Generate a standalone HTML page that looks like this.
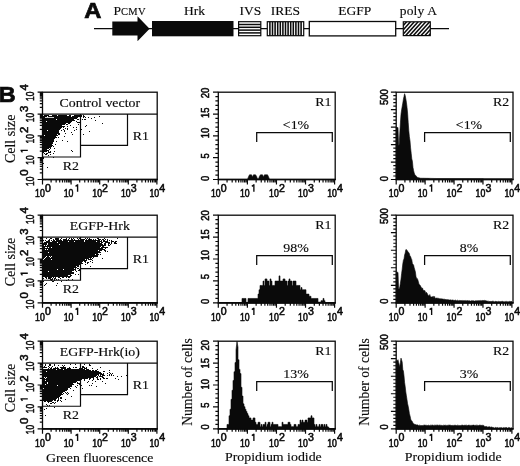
<!DOCTYPE html>
<html><head><meta charset="utf-8"><title>Figure</title>
<style>html,body{margin:0;padding:0;background:#fff;}body{width:520px;height:466px;overflow:hidden;font-family:"Liberation Serif",serif;}svg{display:block;filter:grayscale(1) blur(0.35px)}</style>
</head><body>
<svg width="520" height="466" viewBox="0 0 520 466">
<rect width="520" height="466" fill="#fff"/>
<text transform="translate(84.3,17.6) scale(1.13,1.03)" font-family="Liberation Sans, sans-serif" font-weight="bold" font-size="21" fill="#0a0a0a" stroke="#0a0a0a" stroke-width="0.7">A</text>
<line x1="94" y1="28.7" x2="449" y2="28.7" stroke="#0a0a0a" stroke-width="1.2"/>
<polygon points="112.3,21.6 137.5,21.6 137.5,16.3 149.6,28.7 137.5,41.2 137.5,35.6 112.3,35.6" fill="#0a0a0a"/>
<rect x="152" y="21" width="81.5" height="15.3" fill="#0a0a0a"/>
<rect x="238.6" y="21.7" width="22.2" height="14" fill="#fff" stroke="#0a0a0a" stroke-width="1.2"/>
<line x1="238.6" y1="24.50" x2="260.8" y2="24.50" stroke="#0a0a0a" stroke-width="1.5"/>
<line x1="238.6" y1="27.30" x2="260.8" y2="27.30" stroke="#0a0a0a" stroke-width="1.5"/>
<line x1="238.6" y1="30.10" x2="260.8" y2="30.10" stroke="#0a0a0a" stroke-width="1.5"/>
<line x1="238.6" y1="32.90" x2="260.8" y2="32.90" stroke="#0a0a0a" stroke-width="1.5"/>
<rect x="267.3" y="21.7" width="36.4" height="14" fill="#fff" stroke="#0a0a0a" stroke-width="1.2"/>
<line x1="269.90" y1="21.7" x2="269.90" y2="35.7" stroke="#0a0a0a" stroke-width="1.55"/>
<line x1="272.50" y1="21.7" x2="272.50" y2="35.7" stroke="#0a0a0a" stroke-width="1.55"/>
<line x1="275.10" y1="21.7" x2="275.10" y2="35.7" stroke="#0a0a0a" stroke-width="1.55"/>
<line x1="277.70" y1="21.7" x2="277.70" y2="35.7" stroke="#0a0a0a" stroke-width="1.55"/>
<line x1="280.30" y1="21.7" x2="280.30" y2="35.7" stroke="#0a0a0a" stroke-width="1.55"/>
<line x1="282.90" y1="21.7" x2="282.90" y2="35.7" stroke="#0a0a0a" stroke-width="1.55"/>
<line x1="285.50" y1="21.7" x2="285.50" y2="35.7" stroke="#0a0a0a" stroke-width="1.55"/>
<line x1="288.10" y1="21.7" x2="288.10" y2="35.7" stroke="#0a0a0a" stroke-width="1.55"/>
<line x1="290.70" y1="21.7" x2="290.70" y2="35.7" stroke="#0a0a0a" stroke-width="1.55"/>
<line x1="293.30" y1="21.7" x2="293.30" y2="35.7" stroke="#0a0a0a" stroke-width="1.55"/>
<line x1="295.90" y1="21.7" x2="295.90" y2="35.7" stroke="#0a0a0a" stroke-width="1.55"/>
<line x1="298.50" y1="21.7" x2="298.50" y2="35.7" stroke="#0a0a0a" stroke-width="1.55"/>
<line x1="301.10" y1="21.7" x2="301.10" y2="35.7" stroke="#0a0a0a" stroke-width="1.55"/>
<rect x="309.3" y="21.5" width="86.4" height="14.4" fill="#fff" stroke="#0a0a0a" stroke-width="1.3"/>
<clipPath id="pa"><rect x="403.3" y="21.8" width="27" height="13.8"/></clipPath>
<rect x="403.3" y="21.8" width="27" height="13.8" fill="#fff"/>
<g clip-path="url(#pa)"><line x1="386.40" y1="35.6" x2="398.90" y2="21.8" stroke="#0a0a0a" stroke-width="1.5"/><line x1="390.25" y1="35.6" x2="402.75" y2="21.8" stroke="#0a0a0a" stroke-width="1.5"/><line x1="394.10" y1="35.6" x2="406.60" y2="21.8" stroke="#0a0a0a" stroke-width="1.5"/><line x1="397.95" y1="35.6" x2="410.45" y2="21.8" stroke="#0a0a0a" stroke-width="1.5"/><line x1="401.80" y1="35.6" x2="414.30" y2="21.8" stroke="#0a0a0a" stroke-width="1.5"/><line x1="405.65" y1="35.6" x2="418.15" y2="21.8" stroke="#0a0a0a" stroke-width="1.5"/><line x1="409.50" y1="35.6" x2="422.00" y2="21.8" stroke="#0a0a0a" stroke-width="1.5"/><line x1="413.35" y1="35.6" x2="425.85" y2="21.8" stroke="#0a0a0a" stroke-width="1.5"/><line x1="417.20" y1="35.6" x2="429.70" y2="21.8" stroke="#0a0a0a" stroke-width="1.5"/><line x1="421.05" y1="35.6" x2="433.55" y2="21.8" stroke="#0a0a0a" stroke-width="1.5"/><line x1="424.90" y1="35.6" x2="437.40" y2="21.8" stroke="#0a0a0a" stroke-width="1.5"/><line x1="428.75" y1="35.6" x2="441.25" y2="21.8" stroke="#0a0a0a" stroke-width="1.5"/><line x1="432.60" y1="35.6" x2="445.10" y2="21.8" stroke="#0a0a0a" stroke-width="1.5"/><line x1="436.45" y1="35.6" x2="448.95" y2="21.8" stroke="#0a0a0a" stroke-width="1.5"/><line x1="440.30" y1="35.6" x2="452.80" y2="21.8" stroke="#0a0a0a" stroke-width="1.5"/></g>
<rect x="403.3" y="21.8" width="27" height="13.8" fill="none" stroke="#0a0a0a" stroke-width="1.2"/>
<text x="113.5" y="14.9" font-family="Liberation Serif, serif" stroke="#0a0a0a" stroke-width="0.14" font-size="13.5" fill="#0a0a0a">P<tspan font-size="10.5" letter-spacing="0.35">CMV</tspan></text>
<text x="194.5" y="14.9" font-family="Liberation Serif, serif" stroke="#0a0a0a" stroke-width="0.14" font-size="13.5" fill="#0a0a0a" text-anchor="middle">Hrk</text>
<text x="250.3" y="14.9" font-family="Liberation Serif, serif" stroke="#0a0a0a" stroke-width="0.14" font-size="13.5" fill="#0a0a0a" text-anchor="middle">IVS</text>
<text x="285.3" y="14.9" font-family="Liberation Serif, serif" stroke="#0a0a0a" stroke-width="0.14" font-size="13.5" fill="#0a0a0a" text-anchor="middle">IRES</text>
<text x="354.8" y="14.9" font-family="Liberation Serif, serif" stroke="#0a0a0a" stroke-width="0.14" font-size="13.5" fill="#0a0a0a" text-anchor="middle">EGFP</text>
<text x="418.5" y="14.9" font-family="Liberation Serif, serif" stroke="#0a0a0a" stroke-width="0.14" font-size="13.5" fill="#0a0a0a" text-anchor="middle" letter-spacing="0.2">poly A</text>
<text transform="translate(-1.2,101.9) scale(1.04,1)" font-family="Liberation Sans, sans-serif" font-weight="bold" font-size="22.5" fill="#0a0a0a" stroke="#0a0a0a" stroke-width="0.7">B</text>
<rect x="42.5" y="92.2" width="114.70" height="87.30" fill="none" stroke="#0a0a0a" stroke-width="1.3"/>
<line x1="41.9" y1="179.5" x2="157.79999999999998" y2="179.5" stroke="#0a0a0a" stroke-width="1.7"/>
<path d="M42.50 179.50v5.0M51.11 179.50v2.9M56.15 179.50v2.9M59.72 179.50v2.9M62.49 179.50v2.9M64.76 179.50v2.9M66.67 179.50v2.9M68.33 179.50v2.9M69.79 179.50v2.9M71.10 179.50v5.0M79.71 179.50v2.9M84.75 179.50v2.9M88.32 179.50v2.9M91.09 179.50v2.9M93.36 179.50v2.9M95.27 179.50v2.9M96.93 179.50v2.9M98.39 179.50v2.9M99.70 179.50v5.0M108.31 179.50v2.9M113.35 179.50v2.9M116.92 179.50v2.9M119.69 179.50v2.9M121.96 179.50v2.9M123.87 179.50v2.9M125.53 179.50v2.9M126.99 179.50v2.9M128.30 179.50v5.0M136.91 179.50v2.9M141.95 179.50v2.9M145.52 179.50v2.9M148.29 179.50v2.9M150.56 179.50v2.9M152.47 179.50v2.9M154.13 179.50v2.9M155.59 179.50v2.9M156.90 179.50v5.0" stroke="#0a0a0a" stroke-width="1.2" fill="none"/>
<text x="35.1" y="197.4" font-family="Liberation Sans, sans-serif" font-size="10" fill="#0a0a0a" stroke="#0a0a0a" stroke-width="0.55" textLength="9.7" lengthAdjust="spacingAndGlyphs">10</text>
<text x="44.9" y="191.8" font-family="Liberation Sans, sans-serif" font-size="10.4" fill="#0a0a0a" stroke="#0a0a0a" stroke-width="0.55" textLength="5.9" lengthAdjust="spacingAndGlyphs">0</text>
<text x="63.7" y="197.4" font-family="Liberation Sans, sans-serif" font-size="10" fill="#0a0a0a" stroke="#0a0a0a" stroke-width="0.55" textLength="9.7" lengthAdjust="spacingAndGlyphs">10</text>
<path transform="translate(73.50,191.80) scale(1.000)" d="M4.1 0V-7.45M4.1 -7.0L2.05 -5.45" stroke="#0a0a0a" stroke-width="1.35" fill="none" stroke-linejoin="miter"/>
<text x="92.3" y="197.4" font-family="Liberation Sans, sans-serif" font-size="10" fill="#0a0a0a" stroke="#0a0a0a" stroke-width="0.55" textLength="9.7" lengthAdjust="spacingAndGlyphs">10</text>
<text x="102.1" y="191.8" font-family="Liberation Sans, sans-serif" font-size="10.4" fill="#0a0a0a" stroke="#0a0a0a" stroke-width="0.55" textLength="5.9" lengthAdjust="spacingAndGlyphs">2</text>
<text x="120.9" y="197.4" font-family="Liberation Sans, sans-serif" font-size="10" fill="#0a0a0a" stroke="#0a0a0a" stroke-width="0.55" textLength="9.7" lengthAdjust="spacingAndGlyphs">10</text>
<text x="130.7" y="191.8" font-family="Liberation Sans, sans-serif" font-size="10.4" fill="#0a0a0a" stroke="#0a0a0a" stroke-width="0.55" textLength="5.9" lengthAdjust="spacingAndGlyphs">3</text>
<text x="149.5" y="197.4" font-family="Liberation Sans, sans-serif" font-size="10" fill="#0a0a0a" stroke="#0a0a0a" stroke-width="0.55" textLength="9.7" lengthAdjust="spacingAndGlyphs">10</text>
<text x="159.3" y="191.8" font-family="Liberation Sans, sans-serif" font-size="10.4" fill="#0a0a0a" stroke="#0a0a0a" stroke-width="0.55" textLength="5.9" lengthAdjust="spacingAndGlyphs">4</text>
<path d="M42.50 179.50h-4.9M42.50 172.93h-2.7M42.50 169.09h-2.7M42.50 166.36h-2.7M42.50 164.24h-2.7M42.50 162.52h-2.7M42.50 161.06h-2.7M42.50 159.79h-2.7M42.50 158.67h-2.7M42.50 157.68h-4.9M42.50 151.11h-2.7M42.50 147.26h-2.7M42.50 144.54h-2.7M42.50 142.42h-2.7M42.50 140.69h-2.7M42.50 139.23h-2.7M42.50 137.97h-2.7M42.50 136.85h-2.7M42.50 135.85h-4.9M42.50 129.28h-2.7M42.50 125.44h-2.7M42.50 122.71h-2.7M42.50 120.59h-2.7M42.50 118.87h-2.7M42.50 117.41h-2.7M42.50 116.14h-2.7M42.50 115.02h-2.7M42.50 114.03h-4.9M42.50 107.46h-2.7M42.50 103.61h-2.7M42.50 100.89h-2.7M42.50 98.77h-2.7M42.50 97.04h-2.7M42.50 95.58h-2.7M42.50 94.32h-2.7M42.50 93.20h-2.7M42.50 92.20h-4.9" stroke="#0a0a0a" stroke-width="1.2" fill="none"/>
<g transform="translate(34.0,177.8) rotate(-90)"><text x="-8.2" y="0" font-family="Liberation Sans, sans-serif" font-size="10.7" fill="#0a0a0a" stroke="#0a0a0a" stroke-width="0.55" textLength="9.4" lengthAdjust="spacingAndGlyphs">10</text><text x="2.1" y="-6.2" font-family="Liberation Sans, sans-serif" font-size="10.2" fill="#0a0a0a" stroke="#0a0a0a" stroke-width="0.55" textLength="6.3" lengthAdjust="spacingAndGlyphs">0</text></g>
<g transform="translate(34.0,156.5) rotate(-90)"><text x="-8.2" y="0" font-family="Liberation Sans, sans-serif" font-size="10.7" fill="#0a0a0a" stroke="#0a0a0a" stroke-width="0.55" textLength="9.4" lengthAdjust="spacingAndGlyphs">10</text><path transform="translate(2.10,-6.20) scale(0.981)" d="M4.1 0V-7.45M4.1 -7.0L2.05 -5.45" stroke="#0a0a0a" stroke-width="1.35" fill="none" stroke-linejoin="miter"/></g>
<g transform="translate(34.0,135.2) rotate(-90)"><text x="-8.2" y="0" font-family="Liberation Sans, sans-serif" font-size="10.7" fill="#0a0a0a" stroke="#0a0a0a" stroke-width="0.55" textLength="9.4" lengthAdjust="spacingAndGlyphs">10</text><text x="2.1" y="-6.2" font-family="Liberation Sans, sans-serif" font-size="10.2" fill="#0a0a0a" stroke="#0a0a0a" stroke-width="0.55" textLength="6.3" lengthAdjust="spacingAndGlyphs">2</text></g>
<g transform="translate(34.0,114.0) rotate(-90)"><text x="-8.2" y="0" font-family="Liberation Sans, sans-serif" font-size="10.7" fill="#0a0a0a" stroke="#0a0a0a" stroke-width="0.55" textLength="9.4" lengthAdjust="spacingAndGlyphs">10</text><text x="2.1" y="-6.2" font-family="Liberation Sans, sans-serif" font-size="10.2" fill="#0a0a0a" stroke="#0a0a0a" stroke-width="0.55" textLength="6.3" lengthAdjust="spacingAndGlyphs">3</text></g>
<g transform="translate(34.0,92.7) rotate(-90)"><text x="-8.2" y="0" font-family="Liberation Sans, sans-serif" font-size="10.7" fill="#0a0a0a" stroke="#0a0a0a" stroke-width="0.55" textLength="9.4" lengthAdjust="spacingAndGlyphs">10</text><text x="2.1" y="-6.2" font-family="Liberation Sans, sans-serif" font-size="10.2" fill="#0a0a0a" stroke="#0a0a0a" stroke-width="0.55" textLength="6.3" lengthAdjust="spacingAndGlyphs">4</text></g>
<line x1="42.5" y1="114.03" x2="157.2" y2="114.03" stroke="#0a0a0a" stroke-width="1.2"/>
<path d="M42.5 157.02H80.50V114.03" stroke="#0a0a0a" stroke-width="1.2" fill="none"/>
<path d="M80.50 145.45H127.50V114.03" stroke="#0a0a0a" stroke-width="1.2" fill="none"/>
<text transform="translate(99.8,106.8) scale(1.085,1)" font-family="Liberation Serif, serif" stroke="#0a0a0a" stroke-width="0.14" font-size="12.8" fill="#0a0a0a" text-anchor="middle">Control vector</text>
<text transform="translate(132.8,140.4) scale(1.085,1)" font-family="Liberation Serif, serif" stroke="#0a0a0a" stroke-width="0.14" font-size="12.8" fill="#0a0a0a" text-anchor="start">R1</text>
<text transform="translate(62.8,170.0) scale(1.085,1)" font-family="Liberation Serif, serif" stroke="#0a0a0a" stroke-width="0.14" font-size="12.8" fill="#0a0a0a" text-anchor="start">R2</text>
<text transform="translate(14.8,138.8) rotate(-90)" font-family="Liberation Serif, serif" stroke="#0a0a0a" stroke-width="0.14" font-size="14" fill="#0a0a0a" text-anchor="middle">Cell size</text>
<path d="M44 115.5h5M52 115.5h5M58 115.5h9M69 115.5h2M74 115.5h6M81 115.5h1M83 115.5h1M43 116.5h4M48 116.5h23M72 116.5h10M83 116.5h2M99 116.5h1M43 117.5h35M80 117.5h1M83 117.5h1M85 117.5h1M88 117.5h1M94 117.5h1M43 118.5h34M91 118.5h1M43 119.5h13M57 119.5h17M77 119.5h2M82 119.5h1M84 119.5h2M43 120.5h32M95 120.5h1M43 121.5h3M47 121.5h25M76 121.5h1M43 122.5h28M77 122.5h3M43 123.5h23M68 123.5h2M102 123.5h1M43 124.5h22M66 124.5h2M78 124.5h1M43 125.5h19M70 125.5h1M80 125.5h1M86 125.5h1M43 126.5h22M67 126.5h1M85 126.5h1M43 127.5h19M63 127.5h1M73 127.5h1M76 127.5h1M43 128.5h18M65 128.5h1M67 128.5h1M43 129.5h17M63 129.5h1M67 129.5h1M76 129.5h1M81 129.5h1M43 130.5h4M48 130.5h11M61 130.5h1M64 130.5h1M74 130.5h1M43 131.5h16M64 131.5h1M89 131.5h1M43 132.5h16M71 132.5h1M43 133.5h17M65 133.5h1M43 134.5h14M58 134.5h2M72 134.5h1M83 134.5h1M43 135.5h1M45 135.5h13M43 136.5h13M64 136.5h1M43 137.5h14M58 137.5h1M43 138.5h12M43 139.5h11M43 140.5h11M62 140.5h1M43 141.5h11M56 141.5h1M67 141.5h1M43 142.5h10M43 143.5h10M43 144.5h9M55 144.5h1M43 145.5h10M43 146.5h9M53 146.5h1M43 147.5h8M43 148.5h6M50 148.5h1M54 148.5h1M43 149.5h4M49 149.5h1M43 150.5h6M71 150.5h1M43 151.5h4M48 151.5h1M50 151.5h1M54 151.5h1M72 151.5h1M43 152.5h1M48 152.5h3M44 153.5h1M46 153.5h2M53 153.5h1M45 154.5h2M50 154.5h1M48 155.5h1M43 157.5h1M53 157.5h1M43 158.5h1M43 163.5h1M47 167.5h1" stroke="#0a0a0a" stroke-width="1" fill="none" shape-rendering="crispEdges"/>
<line x1="45.0" y1="117.5" x2="54.0" y2="117.5" stroke="#fff" stroke-width="0.8"/>
<rect x="42.5" y="215.2" width="114.70" height="87.60" fill="none" stroke="#0a0a0a" stroke-width="1.3"/>
<line x1="41.9" y1="302.8" x2="157.79999999999998" y2="302.8" stroke="#0a0a0a" stroke-width="1.7"/>
<path d="M42.50 302.80v5.0M51.11 302.80v2.9M56.15 302.80v2.9M59.72 302.80v2.9M62.49 302.80v2.9M64.76 302.80v2.9M66.67 302.80v2.9M68.33 302.80v2.9M69.79 302.80v2.9M71.10 302.80v5.0M79.71 302.80v2.9M84.75 302.80v2.9M88.32 302.80v2.9M91.09 302.80v2.9M93.36 302.80v2.9M95.27 302.80v2.9M96.93 302.80v2.9M98.39 302.80v2.9M99.70 302.80v5.0M108.31 302.80v2.9M113.35 302.80v2.9M116.92 302.80v2.9M119.69 302.80v2.9M121.96 302.80v2.9M123.87 302.80v2.9M125.53 302.80v2.9M126.99 302.80v2.9M128.30 302.80v5.0M136.91 302.80v2.9M141.95 302.80v2.9M145.52 302.80v2.9M148.29 302.80v2.9M150.56 302.80v2.9M152.47 302.80v2.9M154.13 302.80v2.9M155.59 302.80v2.9M156.90 302.80v5.0" stroke="#0a0a0a" stroke-width="1.2" fill="none"/>
<text x="35.1" y="320.7" font-family="Liberation Sans, sans-serif" font-size="10" fill="#0a0a0a" stroke="#0a0a0a" stroke-width="0.55" textLength="9.7" lengthAdjust="spacingAndGlyphs">10</text>
<text x="44.9" y="315.1" font-family="Liberation Sans, sans-serif" font-size="10.4" fill="#0a0a0a" stroke="#0a0a0a" stroke-width="0.55" textLength="5.9" lengthAdjust="spacingAndGlyphs">0</text>
<text x="63.7" y="320.7" font-family="Liberation Sans, sans-serif" font-size="10" fill="#0a0a0a" stroke="#0a0a0a" stroke-width="0.55" textLength="9.7" lengthAdjust="spacingAndGlyphs">10</text>
<path transform="translate(73.50,315.10) scale(1.000)" d="M4.1 0V-7.45M4.1 -7.0L2.05 -5.45" stroke="#0a0a0a" stroke-width="1.35" fill="none" stroke-linejoin="miter"/>
<text x="92.3" y="320.7" font-family="Liberation Sans, sans-serif" font-size="10" fill="#0a0a0a" stroke="#0a0a0a" stroke-width="0.55" textLength="9.7" lengthAdjust="spacingAndGlyphs">10</text>
<text x="102.1" y="315.1" font-family="Liberation Sans, sans-serif" font-size="10.4" fill="#0a0a0a" stroke="#0a0a0a" stroke-width="0.55" textLength="5.9" lengthAdjust="spacingAndGlyphs">2</text>
<text x="120.9" y="320.7" font-family="Liberation Sans, sans-serif" font-size="10" fill="#0a0a0a" stroke="#0a0a0a" stroke-width="0.55" textLength="9.7" lengthAdjust="spacingAndGlyphs">10</text>
<text x="130.7" y="315.1" font-family="Liberation Sans, sans-serif" font-size="10.4" fill="#0a0a0a" stroke="#0a0a0a" stroke-width="0.55" textLength="5.9" lengthAdjust="spacingAndGlyphs">3</text>
<text x="149.5" y="320.7" font-family="Liberation Sans, sans-serif" font-size="10" fill="#0a0a0a" stroke="#0a0a0a" stroke-width="0.55" textLength="9.7" lengthAdjust="spacingAndGlyphs">10</text>
<text x="159.3" y="315.1" font-family="Liberation Sans, sans-serif" font-size="10.4" fill="#0a0a0a" stroke="#0a0a0a" stroke-width="0.55" textLength="5.9" lengthAdjust="spacingAndGlyphs">4</text>
<path d="M42.50 302.80h-4.9M42.50 296.21h-2.7M42.50 292.35h-2.7M42.50 289.61h-2.7M42.50 287.49h-2.7M42.50 285.76h-2.7M42.50 284.29h-2.7M42.50 283.02h-2.7M42.50 281.90h-2.7M42.50 280.90h-4.9M42.50 274.31h-2.7M42.50 270.45h-2.7M42.50 267.71h-2.7M42.50 265.59h-2.7M42.50 263.86h-2.7M42.50 262.39h-2.7M42.50 261.12h-2.7M42.50 260.00h-2.7M42.50 259.00h-4.9M42.50 252.41h-2.7M42.50 248.55h-2.7M42.50 245.81h-2.7M42.50 243.69h-2.7M42.50 241.96h-2.7M42.50 240.49h-2.7M42.50 239.22h-2.7M42.50 238.10h-2.7M42.50 237.10h-4.9M42.50 230.51h-2.7M42.50 226.65h-2.7M42.50 223.91h-2.7M42.50 221.79h-2.7M42.50 220.06h-2.7M42.50 218.59h-2.7M42.50 217.32h-2.7M42.50 216.20h-2.7M42.50 215.20h-4.9" stroke="#0a0a0a" stroke-width="1.2" fill="none"/>
<g transform="translate(34.0,300.7) rotate(-90)"><text x="-8.2" y="0" font-family="Liberation Sans, sans-serif" font-size="10.7" fill="#0a0a0a" stroke="#0a0a0a" stroke-width="0.55" textLength="9.4" lengthAdjust="spacingAndGlyphs">10</text><text x="2.1" y="-6.2" font-family="Liberation Sans, sans-serif" font-size="10.2" fill="#0a0a0a" stroke="#0a0a0a" stroke-width="0.55" textLength="6.3" lengthAdjust="spacingAndGlyphs">0</text></g>
<g transform="translate(34.0,279.4) rotate(-90)"><text x="-8.2" y="0" font-family="Liberation Sans, sans-serif" font-size="10.7" fill="#0a0a0a" stroke="#0a0a0a" stroke-width="0.55" textLength="9.4" lengthAdjust="spacingAndGlyphs">10</text><path transform="translate(2.10,-6.20) scale(0.981)" d="M4.1 0V-7.45M4.1 -7.0L2.05 -5.45" stroke="#0a0a0a" stroke-width="1.35" fill="none" stroke-linejoin="miter"/></g>
<g transform="translate(34.0,258.2) rotate(-90)"><text x="-8.2" y="0" font-family="Liberation Sans, sans-serif" font-size="10.7" fill="#0a0a0a" stroke="#0a0a0a" stroke-width="0.55" textLength="9.4" lengthAdjust="spacingAndGlyphs">10</text><text x="2.1" y="-6.2" font-family="Liberation Sans, sans-serif" font-size="10.2" fill="#0a0a0a" stroke="#0a0a0a" stroke-width="0.55" textLength="6.3" lengthAdjust="spacingAndGlyphs">2</text></g>
<g transform="translate(34.0,236.9) rotate(-90)"><text x="-8.2" y="0" font-family="Liberation Sans, sans-serif" font-size="10.7" fill="#0a0a0a" stroke="#0a0a0a" stroke-width="0.55" textLength="9.4" lengthAdjust="spacingAndGlyphs">10</text><text x="2.1" y="-6.2" font-family="Liberation Sans, sans-serif" font-size="10.2" fill="#0a0a0a" stroke="#0a0a0a" stroke-width="0.55" textLength="6.3" lengthAdjust="spacingAndGlyphs">3</text></g>
<g transform="translate(34.0,215.7) rotate(-90)"><text x="-8.2" y="0" font-family="Liberation Sans, sans-serif" font-size="10.7" fill="#0a0a0a" stroke="#0a0a0a" stroke-width="0.55" textLength="9.4" lengthAdjust="spacingAndGlyphs">10</text><text x="2.1" y="-6.2" font-family="Liberation Sans, sans-serif" font-size="10.2" fill="#0a0a0a" stroke="#0a0a0a" stroke-width="0.55" textLength="6.3" lengthAdjust="spacingAndGlyphs">4</text></g>
<line x1="42.5" y1="237.10" x2="157.2" y2="237.10" stroke="#0a0a0a" stroke-width="1.2"/>
<path d="M42.5 280.24H80.50V237.10" stroke="#0a0a0a" stroke-width="1.2" fill="none"/>
<path d="M80.50 268.64H127.50V237.10" stroke="#0a0a0a" stroke-width="1.2" fill="none"/>
<text transform="translate(99.8,229.8) scale(1.085,1)" font-family="Liberation Serif, serif" stroke="#0a0a0a" stroke-width="0.14" font-size="12.8" fill="#0a0a0a" text-anchor="middle">EGFP-Hrk</text>
<text transform="translate(132.8,263.4) scale(1.085,1)" font-family="Liberation Serif, serif" stroke="#0a0a0a" stroke-width="0.14" font-size="12.8" fill="#0a0a0a" text-anchor="start">R1</text>
<text transform="translate(62.8,293.0) scale(1.085,1)" font-family="Liberation Serif, serif" stroke="#0a0a0a" stroke-width="0.14" font-size="12.8" fill="#0a0a0a" text-anchor="start">R2</text>
<text transform="translate(14.8,262.0) rotate(-90)" font-family="Liberation Serif, serif" stroke="#0a0a0a" stroke-width="0.14" font-size="14" fill="#0a0a0a" text-anchor="middle">Cell size</text>
<path d="M46 238.5h1M50 238.5h2M55 238.5h4M61 238.5h1M66 238.5h1M69 238.5h1M71 238.5h1M73 238.5h1M77 238.5h1M79 238.5h2M85 238.5h1M87 238.5h1M89 238.5h1M97 238.5h2M104 238.5h1M117 238.5h1M49 239.5h1M53 239.5h1M55 239.5h4M60 239.5h1M63 239.5h4M68 239.5h1M71 239.5h2M74 239.5h1M78 239.5h1M80 239.5h5M86 239.5h1M88 239.5h4M93 239.5h1M95 239.5h1M98 239.5h3M102 239.5h2M105 239.5h1M107 239.5h1M43 240.5h1M45 240.5h1M48 240.5h2M51 240.5h1M53 240.5h2M56 240.5h6M63 240.5h21M85 240.5h15M101 240.5h1M103 240.5h2M107 240.5h1M109 240.5h1M111 240.5h1M46 241.5h4M52 241.5h16M69 241.5h5M75 241.5h9M85 241.5h11M97 241.5h5M103 241.5h5M111 241.5h3M115 241.5h2M44 242.5h13M58 242.5h42M101 242.5h2M105 242.5h5M111 242.5h1M114 242.5h2M43 243.5h4M48 243.5h54M104 243.5h2M108 243.5h2M111 243.5h1M114 243.5h3M43 244.5h4M48 244.5h11M60 244.5h43M104 244.5h2M108 244.5h1M110 244.5h1M43 245.5h1M45 245.5h1M47 245.5h59M108 245.5h2M43 246.5h58M102 246.5h2M43 247.5h2M47 247.5h1M49 247.5h2M52 247.5h48M101 247.5h7M43 248.5h60M105 248.5h1M43 249.5h2M46 249.5h1M48 249.5h57M43 250.5h55M99 250.5h3M104 250.5h2M43 251.5h57M105 251.5h1M107 251.5h1M43 252.5h5M49 252.5h52M43 253.5h55M43 254.5h52M96 254.5h3M100 254.5h1M43 255.5h55M43 256.5h3M47 256.5h2M50 256.5h1M52 256.5h46M43 257.5h2M46 257.5h4M51 257.5h41M93 257.5h1M43 258.5h1M45 258.5h44M90 258.5h1M92 258.5h1M102 258.5h1M44 259.5h7M52 259.5h33M86 259.5h1M88 259.5h4M43 260.5h44M92 260.5h1M43 261.5h40M84 261.5h2M90 261.5h1M43 262.5h39M85 262.5h1M87 262.5h2M92 262.5h1M43 263.5h40M87 263.5h1M43 264.5h38M85 264.5h1M43 265.5h36M80 265.5h1M43 266.5h33M77 266.5h2M90 266.5h1M43 267.5h34M43 268.5h31M75 268.5h1M77 268.5h2M43 269.5h14M58 269.5h5M64 269.5h12M79 269.5h1M43 270.5h31M75 270.5h1M78 270.5h2M43 271.5h5M49 271.5h23M76 271.5h1M43 272.5h31M43 273.5h31M43 274.5h28M75 274.5h1M78 274.5h1M43 275.5h25M70 275.5h2M43 276.5h28M45 277.5h2M48 277.5h4M53 277.5h1M55 277.5h1M58 277.5h2M62 277.5h2M66 277.5h1M68 277.5h2M43 278.5h1M46 278.5h1M48 278.5h3M52 278.5h1M54 278.5h2M60 278.5h1M50 279.5h3M54 279.5h1M56 279.5h1M58 279.5h1M68 279.5h1M72 279.5h1M51 280.5h1M54 280.5h1M66 280.5h1M43 281.5h1M52 281.5h2M61 281.5h1M46 283.5h1M57 283.5h1M45 284.5h1M44 285.5h1M56 285.5h1" stroke="#0a0a0a" stroke-width="1" fill="none" shape-rendering="crispEdges"/>
<rect x="42.5" y="341.2" width="114.70" height="87.60" fill="none" stroke="#0a0a0a" stroke-width="1.3"/>
<line x1="41.9" y1="428.8" x2="157.79999999999998" y2="428.8" stroke="#0a0a0a" stroke-width="1.7"/>
<path d="M42.50 428.80v5.0M51.11 428.80v2.9M56.15 428.80v2.9M59.72 428.80v2.9M62.49 428.80v2.9M64.76 428.80v2.9M66.67 428.80v2.9M68.33 428.80v2.9M69.79 428.80v2.9M71.10 428.80v5.0M79.71 428.80v2.9M84.75 428.80v2.9M88.32 428.80v2.9M91.09 428.80v2.9M93.36 428.80v2.9M95.27 428.80v2.9M96.93 428.80v2.9M98.39 428.80v2.9M99.70 428.80v5.0M108.31 428.80v2.9M113.35 428.80v2.9M116.92 428.80v2.9M119.69 428.80v2.9M121.96 428.80v2.9M123.87 428.80v2.9M125.53 428.80v2.9M126.99 428.80v2.9M128.30 428.80v5.0M136.91 428.80v2.9M141.95 428.80v2.9M145.52 428.80v2.9M148.29 428.80v2.9M150.56 428.80v2.9M152.47 428.80v2.9M154.13 428.80v2.9M155.59 428.80v2.9M156.90 428.80v5.0" stroke="#0a0a0a" stroke-width="1.2" fill="none"/>
<text x="35.1" y="446.7" font-family="Liberation Sans, sans-serif" font-size="10" fill="#0a0a0a" stroke="#0a0a0a" stroke-width="0.55" textLength="9.7" lengthAdjust="spacingAndGlyphs">10</text>
<text x="44.9" y="441.1" font-family="Liberation Sans, sans-serif" font-size="10.4" fill="#0a0a0a" stroke="#0a0a0a" stroke-width="0.55" textLength="5.9" lengthAdjust="spacingAndGlyphs">0</text>
<text x="63.7" y="446.7" font-family="Liberation Sans, sans-serif" font-size="10" fill="#0a0a0a" stroke="#0a0a0a" stroke-width="0.55" textLength="9.7" lengthAdjust="spacingAndGlyphs">10</text>
<path transform="translate(73.50,441.10) scale(1.000)" d="M4.1 0V-7.45M4.1 -7.0L2.05 -5.45" stroke="#0a0a0a" stroke-width="1.35" fill="none" stroke-linejoin="miter"/>
<text x="92.3" y="446.7" font-family="Liberation Sans, sans-serif" font-size="10" fill="#0a0a0a" stroke="#0a0a0a" stroke-width="0.55" textLength="9.7" lengthAdjust="spacingAndGlyphs">10</text>
<text x="102.1" y="441.1" font-family="Liberation Sans, sans-serif" font-size="10.4" fill="#0a0a0a" stroke="#0a0a0a" stroke-width="0.55" textLength="5.9" lengthAdjust="spacingAndGlyphs">2</text>
<text x="120.9" y="446.7" font-family="Liberation Sans, sans-serif" font-size="10" fill="#0a0a0a" stroke="#0a0a0a" stroke-width="0.55" textLength="9.7" lengthAdjust="spacingAndGlyphs">10</text>
<text x="130.7" y="441.1" font-family="Liberation Sans, sans-serif" font-size="10.4" fill="#0a0a0a" stroke="#0a0a0a" stroke-width="0.55" textLength="5.9" lengthAdjust="spacingAndGlyphs">3</text>
<text x="149.5" y="446.7" font-family="Liberation Sans, sans-serif" font-size="10" fill="#0a0a0a" stroke="#0a0a0a" stroke-width="0.55" textLength="9.7" lengthAdjust="spacingAndGlyphs">10</text>
<text x="159.3" y="441.1" font-family="Liberation Sans, sans-serif" font-size="10.4" fill="#0a0a0a" stroke="#0a0a0a" stroke-width="0.55" textLength="5.9" lengthAdjust="spacingAndGlyphs">4</text>
<path d="M42.50 428.80h-4.9M42.50 422.21h-2.7M42.50 418.35h-2.7M42.50 415.61h-2.7M42.50 413.49h-2.7M42.50 411.76h-2.7M42.50 410.29h-2.7M42.50 409.02h-2.7M42.50 407.90h-2.7M42.50 406.90h-4.9M42.50 400.31h-2.7M42.50 396.45h-2.7M42.50 393.71h-2.7M42.50 391.59h-2.7M42.50 389.86h-2.7M42.50 388.39h-2.7M42.50 387.12h-2.7M42.50 386.00h-2.7M42.50 385.00h-4.9M42.50 378.41h-2.7M42.50 374.55h-2.7M42.50 371.81h-2.7M42.50 369.69h-2.7M42.50 367.96h-2.7M42.50 366.49h-2.7M42.50 365.22h-2.7M42.50 364.10h-2.7M42.50 363.10h-4.9M42.50 356.51h-2.7M42.50 352.65h-2.7M42.50 349.91h-2.7M42.50 347.79h-2.7M42.50 346.06h-2.7M42.50 344.59h-2.7M42.50 343.32h-2.7M42.50 342.20h-2.7M42.50 341.20h-4.9" stroke="#0a0a0a" stroke-width="1.2" fill="none"/>
<g transform="translate(34.0,426.1) rotate(-90)"><text x="-8.2" y="0" font-family="Liberation Sans, sans-serif" font-size="10.7" fill="#0a0a0a" stroke="#0a0a0a" stroke-width="0.55" textLength="9.4" lengthAdjust="spacingAndGlyphs">10</text><text x="2.1" y="-6.2" font-family="Liberation Sans, sans-serif" font-size="10.2" fill="#0a0a0a" stroke="#0a0a0a" stroke-width="0.55" textLength="6.3" lengthAdjust="spacingAndGlyphs">0</text></g>
<g transform="translate(34.0,405.0) rotate(-90)"><text x="-8.2" y="0" font-family="Liberation Sans, sans-serif" font-size="10.7" fill="#0a0a0a" stroke="#0a0a0a" stroke-width="0.55" textLength="9.4" lengthAdjust="spacingAndGlyphs">10</text><path transform="translate(2.10,-6.20) scale(0.981)" d="M4.1 0V-7.45M4.1 -7.0L2.05 -5.45" stroke="#0a0a0a" stroke-width="1.35" fill="none" stroke-linejoin="miter"/></g>
<g transform="translate(34.0,383.9) rotate(-90)"><text x="-8.2" y="0" font-family="Liberation Sans, sans-serif" font-size="10.7" fill="#0a0a0a" stroke="#0a0a0a" stroke-width="0.55" textLength="9.4" lengthAdjust="spacingAndGlyphs">10</text><text x="2.1" y="-6.2" font-family="Liberation Sans, sans-serif" font-size="10.2" fill="#0a0a0a" stroke="#0a0a0a" stroke-width="0.55" textLength="6.3" lengthAdjust="spacingAndGlyphs">2</text></g>
<g transform="translate(34.0,362.8) rotate(-90)"><text x="-8.2" y="0" font-family="Liberation Sans, sans-serif" font-size="10.7" fill="#0a0a0a" stroke="#0a0a0a" stroke-width="0.55" textLength="9.4" lengthAdjust="spacingAndGlyphs">10</text><text x="2.1" y="-6.2" font-family="Liberation Sans, sans-serif" font-size="10.2" fill="#0a0a0a" stroke="#0a0a0a" stroke-width="0.55" textLength="6.3" lengthAdjust="spacingAndGlyphs">3</text></g>
<g transform="translate(34.0,341.7) rotate(-90)"><text x="-8.2" y="0" font-family="Liberation Sans, sans-serif" font-size="10.7" fill="#0a0a0a" stroke="#0a0a0a" stroke-width="0.55" textLength="9.4" lengthAdjust="spacingAndGlyphs">10</text><text x="2.1" y="-6.2" font-family="Liberation Sans, sans-serif" font-size="10.2" fill="#0a0a0a" stroke="#0a0a0a" stroke-width="0.55" textLength="6.3" lengthAdjust="spacingAndGlyphs">4</text></g>
<line x1="42.5" y1="363.10" x2="157.2" y2="363.10" stroke="#0a0a0a" stroke-width="1.2"/>
<path d="M42.5 406.24H80.50V363.10" stroke="#0a0a0a" stroke-width="1.2" fill="none"/>
<path d="M80.50 394.64H127.50V363.10" stroke="#0a0a0a" stroke-width="1.2" fill="none"/>
<text transform="translate(99.8,355.8) scale(1.085,1)" font-family="Liberation Serif, serif" stroke="#0a0a0a" stroke-width="0.14" font-size="12.8" fill="#0a0a0a" text-anchor="middle">EGFP-Hrk(io)</text>
<text transform="translate(132.8,389.4) scale(1.085,1)" font-family="Liberation Serif, serif" stroke="#0a0a0a" stroke-width="0.14" font-size="12.8" fill="#0a0a0a" text-anchor="start">R1</text>
<text transform="translate(62.8,419.0) scale(1.085,1)" font-family="Liberation Serif, serif" stroke="#0a0a0a" stroke-width="0.14" font-size="12.8" fill="#0a0a0a" text-anchor="start">R2</text>
<text transform="translate(14.8,388.0) rotate(-90)" font-family="Liberation Serif, serif" stroke="#0a0a0a" stroke-width="0.14" font-size="14" fill="#0a0a0a" text-anchor="middle">Cell size</text>
<path d="M45 364.5h1M49 364.5h2M54 364.5h1M70 364.5h1M75 364.5h1M84 364.5h1M89 364.5h1M45 365.5h1M49 365.5h2M54 365.5h1M58 365.5h1M62 365.5h1M64 365.5h1M80 365.5h1M89 365.5h2M44 366.5h1M48 366.5h1M52 366.5h1M63 366.5h1M82 366.5h2M43 367.5h4M49 367.5h1M51 367.5h1M55 367.5h1M57 367.5h1M60 367.5h6M69 367.5h1M73 367.5h1M75 367.5h2M82 367.5h3M86 367.5h1M100 367.5h1M48 368.5h1M50 368.5h2M53 368.5h6M61 368.5h5M67 368.5h4M79 368.5h4M84 368.5h3M92 368.5h1M43 369.5h13M57 369.5h6M64 369.5h16M81 369.5h4M86 369.5h3M97 369.5h1M43 370.5h48M92 370.5h2M95 370.5h2M109 370.5h1M43 371.5h3M47 371.5h52M103 371.5h2M43 372.5h58M109 372.5h1M43 373.5h59M103 373.5h1M107 373.5h1M110 373.5h1M112 373.5h1M43 374.5h56M100 374.5h4M109 374.5h1M111 374.5h1M43 375.5h54M98 375.5h1M100 375.5h1M102 375.5h3M107 375.5h1M109 375.5h1M111 375.5h1M113 375.5h1M126 375.5h1M43 376.5h53M97 376.5h1M99 376.5h4M117 376.5h1M121 376.5h1M43 377.5h1M45 377.5h1M47 377.5h47M96 377.5h2M102 377.5h2M43 378.5h2M46 378.5h42M89 378.5h2M93 378.5h1M97 378.5h1M100 378.5h1M103 378.5h2M106 378.5h2M115 378.5h1M43 379.5h39M84 379.5h1M89 379.5h1M93 379.5h1M97 379.5h2M100 379.5h1M118 379.5h1M43 380.5h2M46 380.5h34M84 380.5h1M92 380.5h1M43 381.5h34M80 381.5h1M88 381.5h1M95 381.5h1M102 381.5h1M43 382.5h4M48 382.5h28M77 382.5h1M87 382.5h1M43 383.5h4M48 383.5h25M77 383.5h3M92 383.5h1M105 383.5h1M43 384.5h2M46 384.5h28M79 384.5h1M43 385.5h14M58 385.5h14M77 385.5h1M81 385.5h1M89 385.5h1M91 385.5h1M43 386.5h29M75 386.5h1M96 386.5h1M43 387.5h27M76 387.5h1M44 388.5h24M70 388.5h1M82 388.5h1M43 389.5h25M43 390.5h24M73 390.5h1M43 391.5h22M43 392.5h20M65 392.5h1M67 392.5h1M43 393.5h19M63 393.5h1M66 393.5h1M68 393.5h1M43 394.5h20M67 394.5h1M43 395.5h18M43 396.5h17M71 396.5h1M43 397.5h16M60 397.5h2M43 398.5h14M58 398.5h1M60 398.5h2M43 399.5h13M58 399.5h1M65 399.5h1M43 400.5h10M54 400.5h2M57 400.5h2M60 400.5h1M44 401.5h2M47 401.5h5M57 401.5h1M61 401.5h1M48 402.5h1M52 402.5h2M55 402.5h1M50 403.5h2M54 403.5h1M46 404.5h1M47 405.5h1M49 405.5h1M54 407.5h1M46 408.5h1M44 409.5h1M45 415.5h1" stroke="#0a0a0a" stroke-width="1" fill="none" shape-rendering="crispEdges"/>
<rect x="218.3" y="92.2" width="116.90" height="87.30" fill="none" stroke="#0a0a0a" stroke-width="1.3"/>
<line x1="217.70000000000002" y1="179.5" x2="335.8" y2="179.5" stroke="#0a0a0a" stroke-width="1.7"/>
<path d="M218.30 179.50v5.0M227.05 179.50v2.9M232.17 179.50v2.9M235.80 179.50v2.9M238.62 179.50v2.9M240.92 179.50v2.9M242.87 179.50v2.9M244.56 179.50v2.9M246.04 179.50v2.9M247.38 179.50v5.0M256.13 179.50v2.9M261.25 179.50v2.9M264.88 179.50v2.9M267.70 179.50v2.9M270.00 179.50v2.9M271.95 179.50v2.9M273.63 179.50v2.9M275.12 179.50v2.9M276.45 179.50v5.0M285.20 179.50v2.9M290.32 179.50v2.9M293.95 179.50v2.9M296.77 179.50v2.9M299.07 179.50v2.9M301.02 179.50v2.9M302.71 179.50v2.9M304.19 179.50v2.9M305.53 179.50v5.0M314.28 179.50v2.9M319.40 179.50v2.9M323.03 179.50v2.9M325.85 179.50v2.9M328.15 179.50v2.9M330.10 179.50v2.9M331.78 179.50v2.9M333.27 179.50v2.9M334.60 179.50v5.0" stroke="#0a0a0a" stroke-width="1.2" fill="none"/>
<text x="210.9" y="197.4" font-family="Liberation Sans, sans-serif" font-size="10" fill="#0a0a0a" stroke="#0a0a0a" stroke-width="0.55" textLength="9.7" lengthAdjust="spacingAndGlyphs">10</text>
<text x="220.7" y="191.8" font-family="Liberation Sans, sans-serif" font-size="10.4" fill="#0a0a0a" stroke="#0a0a0a" stroke-width="0.55" textLength="5.9" lengthAdjust="spacingAndGlyphs">0</text>
<text x="240.0" y="197.4" font-family="Liberation Sans, sans-serif" font-size="10" fill="#0a0a0a" stroke="#0a0a0a" stroke-width="0.55" textLength="9.7" lengthAdjust="spacingAndGlyphs">10</text>
<path transform="translate(249.78,191.80) scale(1.000)" d="M4.1 0V-7.45M4.1 -7.0L2.05 -5.45" stroke="#0a0a0a" stroke-width="1.35" fill="none" stroke-linejoin="miter"/>
<text x="269.1" y="197.4" font-family="Liberation Sans, sans-serif" font-size="10" fill="#0a0a0a" stroke="#0a0a0a" stroke-width="0.55" textLength="9.7" lengthAdjust="spacingAndGlyphs">10</text>
<text x="278.9" y="191.8" font-family="Liberation Sans, sans-serif" font-size="10.4" fill="#0a0a0a" stroke="#0a0a0a" stroke-width="0.55" textLength="5.9" lengthAdjust="spacingAndGlyphs">2</text>
<text x="298.1" y="197.4" font-family="Liberation Sans, sans-serif" font-size="10" fill="#0a0a0a" stroke="#0a0a0a" stroke-width="0.55" textLength="9.7" lengthAdjust="spacingAndGlyphs">10</text>
<text x="307.9" y="191.8" font-family="Liberation Sans, sans-serif" font-size="10.4" fill="#0a0a0a" stroke="#0a0a0a" stroke-width="0.55" textLength="5.9" lengthAdjust="spacingAndGlyphs">3</text>
<text x="327.2" y="197.4" font-family="Liberation Sans, sans-serif" font-size="10" fill="#0a0a0a" stroke="#0a0a0a" stroke-width="0.55" textLength="9.7" lengthAdjust="spacingAndGlyphs">10</text>
<text x="337.0" y="191.8" font-family="Liberation Sans, sans-serif" font-size="10.4" fill="#0a0a0a" stroke="#0a0a0a" stroke-width="0.55" textLength="5.9" lengthAdjust="spacingAndGlyphs">4</text>
<path d="M218.30 179.50h-5.3M218.30 175.13h-2.9M218.30 170.77h-2.9M218.30 166.41h-2.9M218.30 162.04h-2.9M218.30 157.68h-5.3M218.30 153.31h-2.9M218.30 148.94h-2.9M218.30 144.58h-2.9M218.30 140.22h-2.9M218.30 135.85h-5.3M218.30 131.49h-2.9M218.30 127.12h-2.9M218.30 122.76h-2.9M218.30 118.39h-2.9M218.30 114.03h-5.3M218.30 109.66h-2.9M218.30 105.30h-2.9M218.30 100.93h-2.9M218.30 96.56h-2.9M218.30 92.20h-5.3" stroke="#0a0a0a" stroke-width="1.2" fill="none"/>
<g transform="translate(209.1,181.1) rotate(-90)"><text x="0" y="0" font-family="Liberation Sans, sans-serif" font-size="10.2" fill="#0a0a0a" stroke="#0a0a0a" stroke-width="0.55" textLength="5.2" lengthAdjust="spacingAndGlyphs">0</text></g>
<g transform="translate(209.1,158.4) rotate(-90)"><text x="0" y="0" font-family="Liberation Sans, sans-serif" font-size="10.2" fill="#0a0a0a" stroke="#0a0a0a" stroke-width="0.55" textLength="5.2" lengthAdjust="spacingAndGlyphs">5</text></g>
<g transform="translate(209.1,138.2) rotate(-90)"><text x="0" y="0" font-family="Liberation Sans, sans-serif" font-size="10.2" fill="#0a0a0a" stroke="#0a0a0a" stroke-width="0.55" textLength="10.5" lengthAdjust="spacingAndGlyphs">10</text></g>
<g transform="translate(209.1,118.0) rotate(-90)"><text x="0" y="0" font-family="Liberation Sans, sans-serif" font-size="10.2" fill="#0a0a0a" stroke="#0a0a0a" stroke-width="0.55" textLength="10.5" lengthAdjust="spacingAndGlyphs">15</text></g>
<g transform="translate(209.1,98.2) rotate(-90)"><text x="0" y="0" font-family="Liberation Sans, sans-serif" font-size="10.2" fill="#0a0a0a" stroke="#0a0a0a" stroke-width="0.55" textLength="10.5" lengthAdjust="spacingAndGlyphs">20</text></g>
<path d="M247.50 179.50L247.50 179.50L248.50 176.69L249.50 174.81L250.50 174.81L251.50 174.81L252.50 176.92L253.50 174.81L254.50 174.81L255.50 174.81L256.50 176.22L257.50 178.94L258.50 178.94L259.50 176.22L260.50 174.81L261.50 174.81L262.50 174.81L263.50 176.92L264.50 174.81L265.50 174.81L266.50 174.81L267.50 174.81L268.50 176.69L269.50 179.50L269.50 179.50Z" fill="#0a0a0a" stroke="#0a0a0a" stroke-width="0.6"/>
<path d="M256.7 142.0V132.6H332.3V142.0" stroke="#0a0a0a" stroke-width="1.25" fill="none"/>
<text transform="translate(296.0,128.8) scale(1.085,1)" font-family="Liberation Serif, serif" stroke="#0a0a0a" stroke-width="0.14" font-size="12.8" fill="#0a0a0a" text-anchor="middle">&lt;1%</text>
<text transform="translate(331.4,105.7) scale(1.085,1)" font-family="Liberation Serif, serif" stroke="#0a0a0a" stroke-width="0.14" font-size="12.8" fill="#0a0a0a" text-anchor="end">R1</text>
<rect x="396.2" y="92.2" width="116.80" height="87.30" fill="none" stroke="#0a0a0a" stroke-width="1.3"/>
<line x1="395.59999999999997" y1="179.5" x2="513.6" y2="179.5" stroke="#0a0a0a" stroke-width="1.7"/>
<path d="M396.20 179.50v5.0M404.91 179.50v2.9M410.00 179.50v2.9M413.61 179.50v2.9M416.42 179.50v2.9M418.71 179.50v2.9M420.64 179.50v2.9M422.32 179.50v2.9M423.80 179.50v2.9M425.12 179.50v5.0M433.83 179.50v2.9M438.93 179.50v2.9M442.54 179.50v2.9M445.34 179.50v2.9M447.63 179.50v2.9M449.57 179.50v2.9M451.25 179.50v2.9M452.73 179.50v2.9M454.05 179.50v5.0M462.76 179.50v2.9M467.85 179.50v2.9M471.46 179.50v2.9M474.27 179.50v2.9M476.56 179.50v2.9M478.49 179.50v2.9M480.17 179.50v2.9M481.65 179.50v2.9M482.97 179.50v5.0M491.68 179.50v2.9M496.78 179.50v2.9M500.39 179.50v2.9M503.19 179.50v2.9M505.48 179.50v2.9M507.42 179.50v2.9M509.10 179.50v2.9M510.58 179.50v2.9M511.90 179.50v5.0" stroke="#0a0a0a" stroke-width="1.2" fill="none"/>
<text x="388.8" y="197.4" font-family="Liberation Sans, sans-serif" font-size="10" fill="#0a0a0a" stroke="#0a0a0a" stroke-width="0.55" textLength="9.7" lengthAdjust="spacingAndGlyphs">10</text>
<text x="398.6" y="191.8" font-family="Liberation Sans, sans-serif" font-size="10.4" fill="#0a0a0a" stroke="#0a0a0a" stroke-width="0.55" textLength="5.9" lengthAdjust="spacingAndGlyphs">0</text>
<text x="417.7" y="197.4" font-family="Liberation Sans, sans-serif" font-size="10" fill="#0a0a0a" stroke="#0a0a0a" stroke-width="0.55" textLength="9.7" lengthAdjust="spacingAndGlyphs">10</text>
<path transform="translate(427.53,191.80) scale(1.000)" d="M4.1 0V-7.45M4.1 -7.0L2.05 -5.45" stroke="#0a0a0a" stroke-width="1.35" fill="none" stroke-linejoin="miter"/>
<text x="446.6" y="197.4" font-family="Liberation Sans, sans-serif" font-size="10" fill="#0a0a0a" stroke="#0a0a0a" stroke-width="0.55" textLength="9.7" lengthAdjust="spacingAndGlyphs">10</text>
<text x="456.4" y="191.8" font-family="Liberation Sans, sans-serif" font-size="10.4" fill="#0a0a0a" stroke="#0a0a0a" stroke-width="0.55" textLength="5.9" lengthAdjust="spacingAndGlyphs">2</text>
<text x="475.6" y="197.4" font-family="Liberation Sans, sans-serif" font-size="10" fill="#0a0a0a" stroke="#0a0a0a" stroke-width="0.55" textLength="9.7" lengthAdjust="spacingAndGlyphs">10</text>
<text x="485.4" y="191.8" font-family="Liberation Sans, sans-serif" font-size="10.4" fill="#0a0a0a" stroke="#0a0a0a" stroke-width="0.55" textLength="5.9" lengthAdjust="spacingAndGlyphs">3</text>
<text x="504.5" y="197.4" font-family="Liberation Sans, sans-serif" font-size="10" fill="#0a0a0a" stroke="#0a0a0a" stroke-width="0.55" textLength="9.7" lengthAdjust="spacingAndGlyphs">10</text>
<text x="514.3" y="191.8" font-family="Liberation Sans, sans-serif" font-size="10.4" fill="#0a0a0a" stroke="#0a0a0a" stroke-width="0.55" textLength="5.9" lengthAdjust="spacingAndGlyphs">4</text>
<path d="M396.20 179.50h-5.3M396.20 176.01h-2.9M396.20 172.52h-2.9M396.20 169.02h-2.9M396.20 165.53h-2.9M396.20 162.04h-5.3M396.20 158.55h-2.9M396.20 155.06h-2.9M396.20 151.56h-2.9M396.20 148.07h-2.9M396.20 144.58h-5.3M396.20 141.09h-2.9M396.20 137.60h-2.9M396.20 134.10h-2.9M396.20 130.61h-2.9M396.20 127.12h-5.3M396.20 123.63h-2.9M396.20 120.14h-2.9M396.20 116.64h-2.9M396.20 113.15h-2.9M396.20 109.66h-5.3M396.20 106.17h-2.9M396.20 102.68h-2.9M396.20 99.18h-2.9M396.20 95.69h-2.9M396.20 92.20h-5.3" stroke="#0a0a0a" stroke-width="1.2" fill="none"/>
<g transform="translate(387.7,181.3) rotate(-90)"><text x="0" y="0" font-family="Liberation Sans, sans-serif" font-size="10.2" fill="#0a0a0a" stroke="#0a0a0a" stroke-width="0.55" textLength="5.2" lengthAdjust="spacingAndGlyphs">0</text></g>
<g transform="translate(387.7,105.0) rotate(-90)"><text x="0" y="0" font-family="Liberation Sans, sans-serif" font-size="10.2" fill="#0a0a0a" stroke="#0a0a0a" stroke-width="0.55" textLength="15.8" lengthAdjust="spacingAndGlyphs">500</text></g>
<path d="M396.20 179.50L396.20 127.50L396.80 127.50L397.40 127.50L398.00 127.50L398.60 145.42L399.20 144.50L399.80 133.00L400.40 122.98L401.00 114.21L401.60 109.96L402.20 106.39L402.80 103.12L403.40 99.24L404.00 96.45L404.60 93.70L405.20 95.53L405.80 98.77L406.40 102.23L407.00 107.14L407.60 113.09L408.20 122.31L408.80 130.69L409.40 136.75L410.00 140.84L410.60 147.92L411.20 153.35L411.80 158.88L412.40 161.14L413.00 167.51L413.60 170.55L414.20 173.02L414.80 174.53L415.40 175.16L416.00 175.87L416.60 176.59L417.20 177.30L417.80 177.47L418.40 177.64L419.00 177.81L419.60 177.97L420.20 178.14L420.80 178.21L421.40 178.22L422.00 178.23L422.60 178.24L423.20 178.25L423.80 178.26L424.40 178.28L425.00 178.29L425.60 178.30L426.20 178.31L426.80 178.32L427.40 178.33L428.00 178.34L428.60 178.36L429.20 178.37L429.80 178.38L430.40 178.39L431.00 178.40L431.60 178.41L432.20 178.42L432.80 178.44L433.40 178.45L434.00 178.46L434.60 178.47L435.20 178.48L435.80 178.49L436.40 178.50L437.00 178.50L437.60 178.50L438.20 178.51L438.80 178.51L439.40 178.51L440.00 178.51L440.60 178.51L441.20 178.51L441.80 178.51L442.40 178.52L443.00 178.52L443.60 178.52L444.20 178.52L444.80 178.52L445.40 178.52L446.00 178.53L446.60 178.53L447.20 178.53L447.80 178.53L448.40 178.53L449.00 178.53L449.60 178.54L450.20 178.54L450.80 178.54L451.40 178.54L452.00 178.54L452.60 178.54L453.20 178.54L453.80 178.55L454.40 178.55L455.00 178.55L455.60 178.55L456.20 178.55L456.80 178.55L457.40 178.56L458.00 178.56L458.60 178.56L459.20 178.56L459.80 178.56L460.40 178.56L461.00 178.57L461.60 178.57L462.20 178.57L462.80 178.57L463.40 178.57L464.00 178.57L464.60 178.57L465.20 178.58L465.80 178.58L466.40 178.58L467.00 178.58L467.60 178.58L468.20 178.58L468.80 178.59L469.40 178.59L470.00 178.59L470.60 178.59L471.20 178.59L471.80 178.59L472.40 178.60L473.00 178.60L473.60 178.60L474.20 178.60L474.80 178.60L475.40 178.60L476.00 178.60L476.60 178.61L477.20 178.61L477.80 178.61L478.40 178.61L479.00 178.61L479.60 178.61L480.20 178.62L480.80 178.62L481.40 178.62L482.00 178.62L482.60 178.62L483.20 178.62L483.80 178.63L484.40 178.63L485.00 178.63L485.60 178.63L486.20 178.63L486.80 178.63L487.40 178.63L488.00 178.64L488.60 178.64L489.20 178.64L489.80 178.64L490.40 178.64L491.00 178.64L491.60 178.65L492.20 178.65L492.80 178.65L493.40 178.65L494.00 178.65L494.60 178.65L495.20 178.66L495.80 178.66L496.40 178.66L497.00 178.66L497.60 178.66L498.20 178.66L498.80 178.66L499.40 178.67L500.00 178.67L500.60 178.67L501.20 178.67L501.80 178.67L502.40 178.67L503.00 178.68L503.60 178.68L504.20 178.68L504.80 178.68L505.40 178.68L506.00 178.68L506.60 178.69L507.20 178.69L507.80 178.69L508.40 178.69L509.00 178.69L509.60 178.69L510.20 178.69L510.80 178.70L511.40 178.70L512.00 178.70L512.00 179.50Z" fill="#0a0a0a" stroke="#0a0a0a" stroke-width="0.6"/>
<path d="M424.6 142.0V132.6H510.3V142.0" stroke="#0a0a0a" stroke-width="1.25" fill="none"/>
<text transform="translate(469.0,128.8) scale(1.085,1)" font-family="Liberation Serif, serif" stroke="#0a0a0a" stroke-width="0.14" font-size="12.8" fill="#0a0a0a" text-anchor="middle">&lt;1%</text>
<text transform="translate(509.2,105.7) scale(1.085,1)" font-family="Liberation Serif, serif" stroke="#0a0a0a" stroke-width="0.14" font-size="12.8" fill="#0a0a0a" text-anchor="end">R2</text>
<rect x="218.3" y="215.2" width="116.90" height="87.60" fill="none" stroke="#0a0a0a" stroke-width="1.3"/>
<line x1="217.70000000000002" y1="302.8" x2="335.8" y2="302.8" stroke="#0a0a0a" stroke-width="1.7"/>
<path d="M218.30 302.80v5.0M227.05 302.80v2.9M232.17 302.80v2.9M235.80 302.80v2.9M238.62 302.80v2.9M240.92 302.80v2.9M242.87 302.80v2.9M244.56 302.80v2.9M246.04 302.80v2.9M247.38 302.80v5.0M256.13 302.80v2.9M261.25 302.80v2.9M264.88 302.80v2.9M267.70 302.80v2.9M270.00 302.80v2.9M271.95 302.80v2.9M273.63 302.80v2.9M275.12 302.80v2.9M276.45 302.80v5.0M285.20 302.80v2.9M290.32 302.80v2.9M293.95 302.80v2.9M296.77 302.80v2.9M299.07 302.80v2.9M301.02 302.80v2.9M302.71 302.80v2.9M304.19 302.80v2.9M305.53 302.80v5.0M314.28 302.80v2.9M319.40 302.80v2.9M323.03 302.80v2.9M325.85 302.80v2.9M328.15 302.80v2.9M330.10 302.80v2.9M331.78 302.80v2.9M333.27 302.80v2.9M334.60 302.80v5.0" stroke="#0a0a0a" stroke-width="1.2" fill="none"/>
<text x="210.9" y="320.7" font-family="Liberation Sans, sans-serif" font-size="10" fill="#0a0a0a" stroke="#0a0a0a" stroke-width="0.55" textLength="9.7" lengthAdjust="spacingAndGlyphs">10</text>
<text x="220.7" y="315.1" font-family="Liberation Sans, sans-serif" font-size="10.4" fill="#0a0a0a" stroke="#0a0a0a" stroke-width="0.55" textLength="5.9" lengthAdjust="spacingAndGlyphs">0</text>
<text x="240.0" y="320.7" font-family="Liberation Sans, sans-serif" font-size="10" fill="#0a0a0a" stroke="#0a0a0a" stroke-width="0.55" textLength="9.7" lengthAdjust="spacingAndGlyphs">10</text>
<path transform="translate(249.78,315.10) scale(1.000)" d="M4.1 0V-7.45M4.1 -7.0L2.05 -5.45" stroke="#0a0a0a" stroke-width="1.35" fill="none" stroke-linejoin="miter"/>
<text x="269.1" y="320.7" font-family="Liberation Sans, sans-serif" font-size="10" fill="#0a0a0a" stroke="#0a0a0a" stroke-width="0.55" textLength="9.7" lengthAdjust="spacingAndGlyphs">10</text>
<text x="278.9" y="315.1" font-family="Liberation Sans, sans-serif" font-size="10.4" fill="#0a0a0a" stroke="#0a0a0a" stroke-width="0.55" textLength="5.9" lengthAdjust="spacingAndGlyphs">2</text>
<text x="298.1" y="320.7" font-family="Liberation Sans, sans-serif" font-size="10" fill="#0a0a0a" stroke="#0a0a0a" stroke-width="0.55" textLength="9.7" lengthAdjust="spacingAndGlyphs">10</text>
<text x="307.9" y="315.1" font-family="Liberation Sans, sans-serif" font-size="10.4" fill="#0a0a0a" stroke="#0a0a0a" stroke-width="0.55" textLength="5.9" lengthAdjust="spacingAndGlyphs">3</text>
<text x="327.2" y="320.7" font-family="Liberation Sans, sans-serif" font-size="10" fill="#0a0a0a" stroke="#0a0a0a" stroke-width="0.55" textLength="9.7" lengthAdjust="spacingAndGlyphs">10</text>
<text x="337.0" y="315.1" font-family="Liberation Sans, sans-serif" font-size="10.4" fill="#0a0a0a" stroke="#0a0a0a" stroke-width="0.55" textLength="5.9" lengthAdjust="spacingAndGlyphs">4</text>
<path d="M218.30 302.80h-5.3M218.30 298.42h-2.9M218.30 294.04h-2.9M218.30 289.66h-2.9M218.30 285.28h-2.9M218.30 280.90h-5.3M218.30 276.52h-2.9M218.30 272.14h-2.9M218.30 267.76h-2.9M218.30 263.38h-2.9M218.30 259.00h-5.3M218.30 254.62h-2.9M218.30 250.24h-2.9M218.30 245.86h-2.9M218.30 241.48h-2.9M218.30 237.10h-5.3M218.30 232.72h-2.9M218.30 228.34h-2.9M218.30 223.96h-2.9M218.30 219.58h-2.9M218.30 215.20h-5.3" stroke="#0a0a0a" stroke-width="1.2" fill="none"/>
<g transform="translate(209.1,304.1) rotate(-90)"><text x="0" y="0" font-family="Liberation Sans, sans-serif" font-size="10.2" fill="#0a0a0a" stroke="#0a0a0a" stroke-width="0.55" textLength="5.2" lengthAdjust="spacingAndGlyphs">0</text></g>
<g transform="translate(209.1,279.3) rotate(-90)"><text x="0" y="0" font-family="Liberation Sans, sans-serif" font-size="10.2" fill="#0a0a0a" stroke="#0a0a0a" stroke-width="0.55" textLength="5.2" lengthAdjust="spacingAndGlyphs">5</text></g>
<g transform="translate(209.1,260.6) rotate(-90)"><text x="0" y="0" font-family="Liberation Sans, sans-serif" font-size="10.2" fill="#0a0a0a" stroke="#0a0a0a" stroke-width="0.55" textLength="10.5" lengthAdjust="spacingAndGlyphs">10</text></g>
<g transform="translate(209.1,239.8) rotate(-90)"><text x="0" y="0" font-family="Liberation Sans, sans-serif" font-size="10.2" fill="#0a0a0a" stroke="#0a0a0a" stroke-width="0.55" textLength="10.5" lengthAdjust="spacingAndGlyphs">15</text></g>
<g transform="translate(209.1,220.8) rotate(-90)"><text x="0" y="0" font-family="Liberation Sans, sans-serif" font-size="10.2" fill="#0a0a0a" stroke="#0a0a0a" stroke-width="0.55" textLength="10.5" lengthAdjust="spacingAndGlyphs">20</text></g>
<path d="M241.00 302.80L241.00 302.80L242.00 302.80L242.00 298.46L243.00 298.46L243.00 298.46L244.00 298.46L244.00 298.46L245.00 298.46L245.00 298.46L246.00 298.46L246.00 302.37L247.00 302.37L247.00 302.37L248.00 302.37L248.00 298.46L249.00 298.46L249.00 298.46L250.00 298.46L250.00 298.46L251.00 298.46L251.00 298.46L252.00 298.46L252.00 298.46L253.00 298.46L253.00 298.46L254.00 298.46L254.00 298.46L255.00 298.46L255.00 298.46L256.00 298.46L256.00 298.46L257.00 298.46L257.00 298.46L258.00 298.46L258.00 294.12L259.00 294.12L259.00 289.78L260.00 289.78L260.00 285.44L261.00 285.44L261.00 285.44L262.00 285.44L262.00 285.44L263.00 285.44L263.00 281.10L264.00 281.10L264.00 285.44L265.00 285.44L265.00 278.93L266.00 278.93L266.00 278.93L267.00 278.93L267.00 281.10L268.00 281.10L268.00 281.10L269.00 281.10L269.00 285.44L270.00 285.44L270.00 278.93L271.00 278.93L271.00 281.10L272.00 281.10L272.00 285.44L273.00 285.44L273.00 285.44L274.00 285.44L274.00 285.44L275.00 285.44L275.00 281.10L276.00 281.10L276.00 281.10L277.00 281.10L277.00 281.10L278.00 281.10L278.00 281.10L279.00 281.10L279.00 275.89L280.00 275.89L280.00 281.10L281.00 281.10L281.00 281.10L282.00 281.10L282.00 281.10L283.00 281.10L283.00 278.93L284.00 278.93L284.00 278.93L285.00 278.93L285.00 281.10L286.00 281.10L286.00 281.10L287.00 281.10L287.00 285.44L288.00 285.44L288.00 281.10L289.00 281.10L289.00 278.93L290.00 278.93L290.00 281.10L291.00 281.10L291.00 281.10L292.00 281.10L292.00 285.44L293.00 285.44L293.00 281.10L294.00 281.10L294.00 281.10L295.00 281.10L295.00 281.10L296.00 281.10L296.00 285.44L297.00 285.44L297.00 285.44L298.00 285.44L298.00 285.44L299.00 285.44L299.00 285.44L300.00 285.44L300.00 289.78L301.00 289.78L301.00 287.61L302.00 287.61L302.00 289.78L303.00 289.78L303.00 289.78L304.00 289.78L304.00 289.78L305.00 289.78L305.00 289.78L306.00 289.78L306.00 294.12L307.00 294.12L307.00 294.12L308.00 294.12L308.00 294.12L309.00 294.12L309.00 296.29L310.00 296.29L310.00 296.29L311.00 296.29L311.00 298.46L312.00 298.46L312.00 298.46L313.00 298.46L313.00 298.46L314.00 298.46L314.00 298.46L315.00 298.46L315.00 298.46L316.00 298.46L316.00 298.46L317.00 298.46L317.00 298.46L318.00 298.46L318.00 302.15L319.00 302.15L319.00 302.15L320.00 302.15L320.00 302.15L321.00 302.15L321.00 300.63L322.00 300.63L322.00 300.63L323.00 300.63L323.00 298.46L324.00 298.46L324.00 300.63L325.00 300.63L325.00 302.80L326.00 302.80L326.00 302.80L327.00 302.80L327.00 302.80Z" fill="#0a0a0a" stroke="#0a0a0a" stroke-width="0.6"/>
<path d="M256.7 265.0V255.6H332.3V265.0" stroke="#0a0a0a" stroke-width="1.25" fill="none"/>
<text transform="translate(296.0,251.8) scale(1.085,1)" font-family="Liberation Serif, serif" stroke="#0a0a0a" stroke-width="0.14" font-size="12.8" fill="#0a0a0a" text-anchor="middle">98%</text>
<text transform="translate(331.4,228.7) scale(1.085,1)" font-family="Liberation Serif, serif" stroke="#0a0a0a" stroke-width="0.14" font-size="12.8" fill="#0a0a0a" text-anchor="end">R1</text>
<rect x="396.2" y="215.2" width="116.80" height="87.60" fill="none" stroke="#0a0a0a" stroke-width="1.3"/>
<line x1="395.59999999999997" y1="302.8" x2="513.6" y2="302.8" stroke="#0a0a0a" stroke-width="1.7"/>
<path d="M396.20 302.80v5.0M404.91 302.80v2.9M410.00 302.80v2.9M413.61 302.80v2.9M416.42 302.80v2.9M418.71 302.80v2.9M420.64 302.80v2.9M422.32 302.80v2.9M423.80 302.80v2.9M425.12 302.80v5.0M433.83 302.80v2.9M438.93 302.80v2.9M442.54 302.80v2.9M445.34 302.80v2.9M447.63 302.80v2.9M449.57 302.80v2.9M451.25 302.80v2.9M452.73 302.80v2.9M454.05 302.80v5.0M462.76 302.80v2.9M467.85 302.80v2.9M471.46 302.80v2.9M474.27 302.80v2.9M476.56 302.80v2.9M478.49 302.80v2.9M480.17 302.80v2.9M481.65 302.80v2.9M482.97 302.80v5.0M491.68 302.80v2.9M496.78 302.80v2.9M500.39 302.80v2.9M503.19 302.80v2.9M505.48 302.80v2.9M507.42 302.80v2.9M509.10 302.80v2.9M510.58 302.80v2.9M511.90 302.80v5.0" stroke="#0a0a0a" stroke-width="1.2" fill="none"/>
<text x="388.8" y="320.7" font-family="Liberation Sans, sans-serif" font-size="10" fill="#0a0a0a" stroke="#0a0a0a" stroke-width="0.55" textLength="9.7" lengthAdjust="spacingAndGlyphs">10</text>
<text x="398.6" y="315.1" font-family="Liberation Sans, sans-serif" font-size="10.4" fill="#0a0a0a" stroke="#0a0a0a" stroke-width="0.55" textLength="5.9" lengthAdjust="spacingAndGlyphs">0</text>
<text x="417.7" y="320.7" font-family="Liberation Sans, sans-serif" font-size="10" fill="#0a0a0a" stroke="#0a0a0a" stroke-width="0.55" textLength="9.7" lengthAdjust="spacingAndGlyphs">10</text>
<path transform="translate(427.53,315.10) scale(1.000)" d="M4.1 0V-7.45M4.1 -7.0L2.05 -5.45" stroke="#0a0a0a" stroke-width="1.35" fill="none" stroke-linejoin="miter"/>
<text x="446.6" y="320.7" font-family="Liberation Sans, sans-serif" font-size="10" fill="#0a0a0a" stroke="#0a0a0a" stroke-width="0.55" textLength="9.7" lengthAdjust="spacingAndGlyphs">10</text>
<text x="456.4" y="315.1" font-family="Liberation Sans, sans-serif" font-size="10.4" fill="#0a0a0a" stroke="#0a0a0a" stroke-width="0.55" textLength="5.9" lengthAdjust="spacingAndGlyphs">2</text>
<text x="475.6" y="320.7" font-family="Liberation Sans, sans-serif" font-size="10" fill="#0a0a0a" stroke="#0a0a0a" stroke-width="0.55" textLength="9.7" lengthAdjust="spacingAndGlyphs">10</text>
<text x="485.4" y="315.1" font-family="Liberation Sans, sans-serif" font-size="10.4" fill="#0a0a0a" stroke="#0a0a0a" stroke-width="0.55" textLength="5.9" lengthAdjust="spacingAndGlyphs">3</text>
<text x="504.5" y="320.7" font-family="Liberation Sans, sans-serif" font-size="10" fill="#0a0a0a" stroke="#0a0a0a" stroke-width="0.55" textLength="9.7" lengthAdjust="spacingAndGlyphs">10</text>
<text x="514.3" y="315.1" font-family="Liberation Sans, sans-serif" font-size="10.4" fill="#0a0a0a" stroke="#0a0a0a" stroke-width="0.55" textLength="5.9" lengthAdjust="spacingAndGlyphs">4</text>
<path d="M396.20 302.80h-5.3M396.20 299.30h-2.9M396.20 295.79h-2.9M396.20 292.29h-2.9M396.20 288.78h-2.9M396.20 285.28h-5.3M396.20 281.78h-2.9M396.20 278.27h-2.9M396.20 274.77h-2.9M396.20 271.26h-2.9M396.20 267.76h-5.3M396.20 264.26h-2.9M396.20 260.75h-2.9M396.20 257.25h-2.9M396.20 253.74h-2.9M396.20 250.24h-5.3M396.20 246.74h-2.9M396.20 243.23h-2.9M396.20 239.73h-2.9M396.20 236.22h-2.9M396.20 232.72h-5.3M396.20 229.22h-2.9M396.20 225.71h-2.9M396.20 222.21h-2.9M396.20 218.70h-2.9M396.20 215.20h-5.3" stroke="#0a0a0a" stroke-width="1.2" fill="none"/>
<g transform="translate(387.7,303.8) rotate(-90)"><text x="0" y="0" font-family="Liberation Sans, sans-serif" font-size="10.2" fill="#0a0a0a" stroke="#0a0a0a" stroke-width="0.55" textLength="5.2" lengthAdjust="spacingAndGlyphs">0</text></g>
<g transform="translate(387.7,224.1) rotate(-90)"><text x="0" y="0" font-family="Liberation Sans, sans-serif" font-size="10.2" fill="#0a0a0a" stroke="#0a0a0a" stroke-width="0.55" textLength="15.8" lengthAdjust="spacingAndGlyphs">500</text></g>
<path d="M396.20 302.80L396.20 272.49L396.80 272.20L397.40 272.20L398.00 272.42L398.60 289.01L399.20 288.67L399.80 287.05L400.40 283.11L401.00 279.07L401.60 273.55L402.20 269.17L402.80 263.82L403.40 260.13L404.00 259.00L404.60 254.94L405.20 252.93L405.80 249.74L406.40 249.54L407.00 250.58L407.60 250.92L408.20 252.48L408.80 252.55L409.40 253.75L410.00 256.22L410.60 256.52L411.20 258.41L411.80 259.68L412.40 263.53L413.00 264.35L413.60 264.97L414.20 267.86L414.80 269.81L415.40 272.02L416.00 276.55L416.60 278.56L417.20 278.40L417.80 279.79L418.40 281.65L419.00 284.20L419.60 284.82L420.20 285.36L420.80 286.58L421.40 287.55L422.00 288.48L422.60 288.11L423.20 290.64L423.80 290.10L424.40 290.73L425.00 290.61L425.60 293.38L426.20 292.27L426.80 292.76L427.40 293.68L428.00 295.21L428.60 295.67L429.20 295.74L429.80 294.53L430.40 296.58L431.00 297.06L431.60 296.91L432.20 296.89L432.80 296.49L433.40 296.37L434.00 297.91L434.60 296.39L435.20 298.84L435.80 298.07L436.40 298.08L437.00 298.14L437.60 298.20L438.20 298.27L438.80 298.42L439.40 298.64L440.00 298.74L440.60 298.83L441.20 298.63L441.80 298.92L442.40 298.92L443.00 299.07L443.60 299.21L444.20 299.13L444.80 299.33L445.40 299.55L446.00 299.20L446.60 299.70L447.20 299.80L447.80 299.57L448.40 299.69L449.00 299.93L449.60 300.02L450.20 299.82L450.80 300.02L451.40 300.18L452.00 300.00L452.60 299.96L453.20 300.37L453.80 300.14L454.40 300.45L455.00 300.07L455.60 300.14L456.20 300.49L456.80 300.64L457.40 300.20L458.00 300.49L458.60 300.74L459.20 300.77L459.80 300.34L460.40 300.54L461.00 300.73L461.60 300.55L462.20 300.73L462.80 300.46L463.40 300.65L464.00 300.39L464.60 300.67L465.20 300.46L465.80 300.86L466.40 300.72L467.00 300.74L467.60 300.58L468.20 301.04L468.80 300.59L469.40 300.63L470.00 300.89L470.60 301.12L471.20 300.70L471.80 300.77L472.40 300.64L473.00 300.88L473.60 300.65L474.20 301.06L474.80 301.06L475.40 300.84L476.00 300.87L476.60 300.83L477.20 300.69L477.80 300.75L478.40 300.72L479.00 300.58L479.60 300.65L480.20 300.81L480.80 300.44L481.40 300.75L482.00 300.43L482.60 300.48L483.20 300.53L483.80 300.60L484.40 300.28L485.00 300.91L485.60 300.61L486.20 300.82L486.80 301.10L487.40 301.12L488.00 301.48L488.60 301.19L489.20 301.61L489.80 301.37L490.40 301.45L491.00 301.33L491.60 301.46L492.20 301.18L492.80 301.25L493.40 301.23L494.00 301.76L494.60 301.69L495.20 301.50L495.80 301.35L496.40 301.59L497.00 301.47L497.60 301.79L498.20 301.44L498.80 301.42L499.40 301.60L500.00 301.77L500.60 301.61L501.20 301.42L501.80 301.52L502.40 301.35L503.00 301.54L503.60 301.79L504.20 301.54L504.80 301.88L505.40 301.47L506.00 301.80L506.60 301.39L507.20 301.65L507.80 301.68L508.40 301.87L509.00 301.48L509.60 301.42L510.20 301.56L510.80 301.58L511.40 301.57L512.00 301.55L512.00 302.80Z" fill="#0a0a0a" stroke="#0a0a0a" stroke-width="0.6"/>
<path d="M424.6 265.0V255.6H510.3V265.0" stroke="#0a0a0a" stroke-width="1.25" fill="none"/>
<text transform="translate(469.0,251.8) scale(1.085,1)" font-family="Liberation Serif, serif" stroke="#0a0a0a" stroke-width="0.14" font-size="12.8" fill="#0a0a0a" text-anchor="middle">8%</text>
<text transform="translate(509.2,228.7) scale(1.085,1)" font-family="Liberation Serif, serif" stroke="#0a0a0a" stroke-width="0.14" font-size="12.8" fill="#0a0a0a" text-anchor="end">R2</text>
<rect x="218.3" y="341.2" width="116.90" height="87.60" fill="none" stroke="#0a0a0a" stroke-width="1.3"/>
<line x1="217.70000000000002" y1="428.8" x2="335.8" y2="428.8" stroke="#0a0a0a" stroke-width="1.7"/>
<path d="M218.30 428.80v5.0M227.05 428.80v2.9M232.17 428.80v2.9M235.80 428.80v2.9M238.62 428.80v2.9M240.92 428.80v2.9M242.87 428.80v2.9M244.56 428.80v2.9M246.04 428.80v2.9M247.38 428.80v5.0M256.13 428.80v2.9M261.25 428.80v2.9M264.88 428.80v2.9M267.70 428.80v2.9M270.00 428.80v2.9M271.95 428.80v2.9M273.63 428.80v2.9M275.12 428.80v2.9M276.45 428.80v5.0M285.20 428.80v2.9M290.32 428.80v2.9M293.95 428.80v2.9M296.77 428.80v2.9M299.07 428.80v2.9M301.02 428.80v2.9M302.71 428.80v2.9M304.19 428.80v2.9M305.53 428.80v5.0M314.28 428.80v2.9M319.40 428.80v2.9M323.03 428.80v2.9M325.85 428.80v2.9M328.15 428.80v2.9M330.10 428.80v2.9M331.78 428.80v2.9M333.27 428.80v2.9M334.60 428.80v5.0" stroke="#0a0a0a" stroke-width="1.2" fill="none"/>
<text x="210.9" y="446.7" font-family="Liberation Sans, sans-serif" font-size="10" fill="#0a0a0a" stroke="#0a0a0a" stroke-width="0.55" textLength="9.7" lengthAdjust="spacingAndGlyphs">10</text>
<text x="220.7" y="441.1" font-family="Liberation Sans, sans-serif" font-size="10.4" fill="#0a0a0a" stroke="#0a0a0a" stroke-width="0.55" textLength="5.9" lengthAdjust="spacingAndGlyphs">0</text>
<text x="240.0" y="446.7" font-family="Liberation Sans, sans-serif" font-size="10" fill="#0a0a0a" stroke="#0a0a0a" stroke-width="0.55" textLength="9.7" lengthAdjust="spacingAndGlyphs">10</text>
<path transform="translate(249.78,441.10) scale(1.000)" d="M4.1 0V-7.45M4.1 -7.0L2.05 -5.45" stroke="#0a0a0a" stroke-width="1.35" fill="none" stroke-linejoin="miter"/>
<text x="269.1" y="446.7" font-family="Liberation Sans, sans-serif" font-size="10" fill="#0a0a0a" stroke="#0a0a0a" stroke-width="0.55" textLength="9.7" lengthAdjust="spacingAndGlyphs">10</text>
<text x="278.9" y="441.1" font-family="Liberation Sans, sans-serif" font-size="10.4" fill="#0a0a0a" stroke="#0a0a0a" stroke-width="0.55" textLength="5.9" lengthAdjust="spacingAndGlyphs">2</text>
<text x="298.1" y="446.7" font-family="Liberation Sans, sans-serif" font-size="10" fill="#0a0a0a" stroke="#0a0a0a" stroke-width="0.55" textLength="9.7" lengthAdjust="spacingAndGlyphs">10</text>
<text x="307.9" y="441.1" font-family="Liberation Sans, sans-serif" font-size="10.4" fill="#0a0a0a" stroke="#0a0a0a" stroke-width="0.55" textLength="5.9" lengthAdjust="spacingAndGlyphs">3</text>
<text x="327.2" y="446.7" font-family="Liberation Sans, sans-serif" font-size="10" fill="#0a0a0a" stroke="#0a0a0a" stroke-width="0.55" textLength="9.7" lengthAdjust="spacingAndGlyphs">10</text>
<text x="337.0" y="441.1" font-family="Liberation Sans, sans-serif" font-size="10.4" fill="#0a0a0a" stroke="#0a0a0a" stroke-width="0.55" textLength="5.9" lengthAdjust="spacingAndGlyphs">4</text>
<path d="M218.30 428.80h-5.3M218.30 424.42h-2.9M218.30 420.04h-2.9M218.30 415.66h-2.9M218.30 411.28h-2.9M218.30 406.90h-5.3M218.30 402.52h-2.9M218.30 398.14h-2.9M218.30 393.76h-2.9M218.30 389.38h-2.9M218.30 385.00h-5.3M218.30 380.62h-2.9M218.30 376.24h-2.9M218.30 371.86h-2.9M218.30 367.48h-2.9M218.30 363.10h-5.3M218.30 358.72h-2.9M218.30 354.34h-2.9M218.30 349.96h-2.9M218.30 345.58h-2.9M218.30 341.20h-5.3" stroke="#0a0a0a" stroke-width="1.2" fill="none"/>
<g transform="translate(209.1,429.5) rotate(-90)"><text x="0" y="0" font-family="Liberation Sans, sans-serif" font-size="10.2" fill="#0a0a0a" stroke="#0a0a0a" stroke-width="0.55" textLength="5.2" lengthAdjust="spacingAndGlyphs">0</text></g>
<g transform="translate(209.1,407.8) rotate(-90)"><text x="0" y="0" font-family="Liberation Sans, sans-serif" font-size="10.2" fill="#0a0a0a" stroke="#0a0a0a" stroke-width="0.55" textLength="5.2" lengthAdjust="spacingAndGlyphs">5</text></g>
<g transform="translate(209.1,389.6) rotate(-90)"><text x="0" y="0" font-family="Liberation Sans, sans-serif" font-size="10.2" fill="#0a0a0a" stroke="#0a0a0a" stroke-width="0.55" textLength="10.5" lengthAdjust="spacingAndGlyphs">10</text></g>
<g transform="translate(209.1,368.4) rotate(-90)"><text x="0" y="0" font-family="Liberation Sans, sans-serif" font-size="10.2" fill="#0a0a0a" stroke="#0a0a0a" stroke-width="0.55" textLength="10.5" lengthAdjust="spacingAndGlyphs">15</text></g>
<g transform="translate(209.1,350.6) rotate(-90)"><text x="0" y="0" font-family="Liberation Sans, sans-serif" font-size="10.2" fill="#0a0a0a" stroke="#0a0a0a" stroke-width="0.55" textLength="10.5" lengthAdjust="spacingAndGlyphs">20</text></g>
<path d="M226.00 428.80L226.00 428.80L227.00 428.80L227.00 424.46L228.00 424.46L228.00 424.46L229.00 424.46L229.00 415.78L230.00 415.78L230.00 409.27L231.00 409.27L231.00 399.36L232.00 399.36L232.00 390.28L233.00 390.28L233.00 380.45L234.00 380.45L234.00 371.72L235.00 371.72L235.00 362.55L236.00 362.55L236.00 349.98L237.00 341.30L237.00 341.30L238.00 347.35L238.00 359.76L239.00 359.76L239.00 369.39L240.00 369.39L240.00 373.57L241.00 373.57L241.00 387.34L242.00 387.34L242.00 396.08L243.00 396.08L243.00 403.87L244.00 403.87L244.00 406.70L245.00 406.70L245.00 409.27L246.00 409.27L246.00 411.44L247.00 411.44L247.00 413.61L248.00 413.61L248.00 415.78L249.00 415.78L249.00 417.95L250.00 417.95L250.00 417.95L251.00 417.95L251.00 420.12L252.00 420.12L252.00 420.12L253.00 420.12L253.00 417.95L254.00 417.95L254.00 417.95L255.00 417.95L255.00 422.29L256.00 422.29L256.00 424.46L257.00 424.46L257.00 424.46L258.00 424.46L258.00 422.29L259.00 422.29L259.00 422.29L260.00 422.29L260.00 426.63L261.00 426.63L261.00 424.46L262.00 424.46L262.00 426.63L263.00 426.63L263.00 424.46L264.00 424.46L264.00 424.46L265.00 424.46L265.00 422.29L266.00 422.29L266.00 426.63L267.00 426.63L267.00 424.46L268.00 424.46L268.00 422.29L269.00 422.29L269.00 422.29L270.00 422.29L270.00 426.63L271.00 426.63L271.00 424.46L272.00 424.46L272.00 422.29L273.00 422.29L273.00 424.46L274.00 424.46L274.00 424.46L275.00 424.46L275.00 424.46L276.00 424.46L276.00 424.46L277.00 424.46L277.00 424.46L278.00 424.46L278.00 426.63L279.00 426.63L279.00 426.63L280.00 426.63L280.00 426.63L281.00 426.63L281.00 426.63L282.00 426.63L282.00 422.29L283.00 422.29L283.00 424.46L284.00 424.46L284.00 424.46L285.00 424.46L285.00 424.46L286.00 424.46L286.00 424.46L287.00 424.46L287.00 424.46L288.00 424.46L288.00 422.29L289.00 422.29L289.00 422.29L290.00 422.29L290.00 424.46L291.00 424.46L291.00 426.63L292.00 426.63L292.00 426.63L293.00 426.63L293.00 426.63L294.00 426.63L294.00 424.46L295.00 424.46L295.00 424.46L296.00 424.46L296.00 426.63L297.00 426.63L297.00 426.63L298.00 426.63L298.00 424.46L299.00 424.46L299.00 424.46L300.00 424.46L300.00 420.12L301.00 420.12L301.00 422.29L302.00 422.29L302.00 420.12L303.00 420.12L303.00 422.29L304.00 422.29L304.00 422.29L305.00 422.29L305.00 420.12L306.00 420.12L306.00 420.12L307.00 420.12L307.00 422.29L308.00 422.29L308.00 417.95L309.00 417.95L309.00 417.95L310.00 417.95L310.00 417.95L311.00 417.95L311.00 415.78L312.00 415.78L312.00 417.95L313.00 417.95L313.00 417.95L314.00 417.95L314.00 424.46L315.00 424.46L315.00 426.63L316.00 426.63L316.00 424.46L317.00 424.46L317.00 426.63L318.00 426.63L318.00 426.63L319.00 426.63L319.00 424.46L320.00 424.46L320.00 426.63L321.00 426.63L321.00 424.46L322.00 424.46L322.00 424.46L323.00 424.46L323.00 426.63L324.00 426.63L324.00 424.46L325.00 424.46L325.00 426.63L326.00 426.63L326.00 424.46L327.00 424.46L327.00 426.63L328.00 426.63L328.00 427.28L329.00 427.28L329.00 428.80L330.00 428.80L330.00 428.80L331.00 428.80L331.00 428.80L332.00 428.80L332.00 428.80L333.00 428.80L333.00 428.80Z" fill="#0a0a0a" stroke="#0a0a0a" stroke-width="0.6"/>
<path d="M256.7 391.0V381.6H332.3V391.0" stroke="#0a0a0a" stroke-width="1.25" fill="none"/>
<text transform="translate(296.0,377.8) scale(1.085,1)" font-family="Liberation Serif, serif" stroke="#0a0a0a" stroke-width="0.14" font-size="12.8" fill="#0a0a0a" text-anchor="middle">13%</text>
<text transform="translate(331.4,354.7) scale(1.085,1)" font-family="Liberation Serif, serif" stroke="#0a0a0a" stroke-width="0.14" font-size="12.8" fill="#0a0a0a" text-anchor="end">R1</text>
<rect x="396.2" y="341.2" width="116.80" height="87.60" fill="none" stroke="#0a0a0a" stroke-width="1.3"/>
<line x1="395.59999999999997" y1="428.8" x2="513.6" y2="428.8" stroke="#0a0a0a" stroke-width="1.7"/>
<path d="M396.20 428.80v5.0M404.91 428.80v2.9M410.00 428.80v2.9M413.61 428.80v2.9M416.42 428.80v2.9M418.71 428.80v2.9M420.64 428.80v2.9M422.32 428.80v2.9M423.80 428.80v2.9M425.12 428.80v5.0M433.83 428.80v2.9M438.93 428.80v2.9M442.54 428.80v2.9M445.34 428.80v2.9M447.63 428.80v2.9M449.57 428.80v2.9M451.25 428.80v2.9M452.73 428.80v2.9M454.05 428.80v5.0M462.76 428.80v2.9M467.85 428.80v2.9M471.46 428.80v2.9M474.27 428.80v2.9M476.56 428.80v2.9M478.49 428.80v2.9M480.17 428.80v2.9M481.65 428.80v2.9M482.97 428.80v5.0M491.68 428.80v2.9M496.78 428.80v2.9M500.39 428.80v2.9M503.19 428.80v2.9M505.48 428.80v2.9M507.42 428.80v2.9M509.10 428.80v2.9M510.58 428.80v2.9M511.90 428.80v5.0" stroke="#0a0a0a" stroke-width="1.2" fill="none"/>
<text x="388.8" y="446.7" font-family="Liberation Sans, sans-serif" font-size="10" fill="#0a0a0a" stroke="#0a0a0a" stroke-width="0.55" textLength="9.7" lengthAdjust="spacingAndGlyphs">10</text>
<text x="398.6" y="441.1" font-family="Liberation Sans, sans-serif" font-size="10.4" fill="#0a0a0a" stroke="#0a0a0a" stroke-width="0.55" textLength="5.9" lengthAdjust="spacingAndGlyphs">0</text>
<text x="417.7" y="446.7" font-family="Liberation Sans, sans-serif" font-size="10" fill="#0a0a0a" stroke="#0a0a0a" stroke-width="0.55" textLength="9.7" lengthAdjust="spacingAndGlyphs">10</text>
<path transform="translate(427.53,441.10) scale(1.000)" d="M4.1 0V-7.45M4.1 -7.0L2.05 -5.45" stroke="#0a0a0a" stroke-width="1.35" fill="none" stroke-linejoin="miter"/>
<text x="446.6" y="446.7" font-family="Liberation Sans, sans-serif" font-size="10" fill="#0a0a0a" stroke="#0a0a0a" stroke-width="0.55" textLength="9.7" lengthAdjust="spacingAndGlyphs">10</text>
<text x="456.4" y="441.1" font-family="Liberation Sans, sans-serif" font-size="10.4" fill="#0a0a0a" stroke="#0a0a0a" stroke-width="0.55" textLength="5.9" lengthAdjust="spacingAndGlyphs">2</text>
<text x="475.6" y="446.7" font-family="Liberation Sans, sans-serif" font-size="10" fill="#0a0a0a" stroke="#0a0a0a" stroke-width="0.55" textLength="9.7" lengthAdjust="spacingAndGlyphs">10</text>
<text x="485.4" y="441.1" font-family="Liberation Sans, sans-serif" font-size="10.4" fill="#0a0a0a" stroke="#0a0a0a" stroke-width="0.55" textLength="5.9" lengthAdjust="spacingAndGlyphs">3</text>
<text x="504.5" y="446.7" font-family="Liberation Sans, sans-serif" font-size="10" fill="#0a0a0a" stroke="#0a0a0a" stroke-width="0.55" textLength="9.7" lengthAdjust="spacingAndGlyphs">10</text>
<text x="514.3" y="441.1" font-family="Liberation Sans, sans-serif" font-size="10.4" fill="#0a0a0a" stroke="#0a0a0a" stroke-width="0.55" textLength="5.9" lengthAdjust="spacingAndGlyphs">4</text>
<path d="M396.20 428.80h-5.3M396.20 425.30h-2.9M396.20 421.79h-2.9M396.20 418.29h-2.9M396.20 414.78h-2.9M396.20 411.28h-5.3M396.20 407.78h-2.9M396.20 404.27h-2.9M396.20 400.77h-2.9M396.20 397.26h-2.9M396.20 393.76h-5.3M396.20 390.26h-2.9M396.20 386.75h-2.9M396.20 383.25h-2.9M396.20 379.74h-2.9M396.20 376.24h-5.3M396.20 372.74h-2.9M396.20 369.23h-2.9M396.20 365.73h-2.9M396.20 362.22h-2.9M396.20 358.72h-5.3M396.20 355.22h-2.9M396.20 351.71h-2.9M396.20 348.21h-2.9M396.20 344.70h-2.9M396.20 341.20h-5.3" stroke="#0a0a0a" stroke-width="1.2" fill="none"/>
<g transform="translate(387.7,429.6) rotate(-90)"><text x="0" y="0" font-family="Liberation Sans, sans-serif" font-size="10.2" fill="#0a0a0a" stroke="#0a0a0a" stroke-width="0.55" textLength="5.2" lengthAdjust="spacingAndGlyphs">0</text></g>
<g transform="translate(387.7,350.1) rotate(-90)"><text x="0" y="0" font-family="Liberation Sans, sans-serif" font-size="10.2" fill="#0a0a0a" stroke="#0a0a0a" stroke-width="0.55" textLength="15.8" lengthAdjust="spacingAndGlyphs">500</text></g>
<path d="M396.20 428.80L396.20 360.61L396.80 361.79L397.40 360.32L398.00 359.65L398.60 362.58L399.20 364.44L399.80 367.02L400.40 362.16L401.00 358.11L401.60 360.03L402.20 362.09L402.80 369.62L403.40 370.97L404.00 375.83L404.60 382.62L405.20 386.55L405.80 391.92L406.40 395.87L407.00 399.66L407.60 403.79L408.20 406.26L408.80 409.60L409.40 413.43L410.00 415.81L410.60 418.48L411.20 420.87L411.80 420.73L412.40 421.87L413.00 423.07L413.60 423.68L414.20 424.25L414.80 424.18L415.40 424.44L416.00 424.70L416.60 424.92L417.20 424.87L417.80 425.01L418.40 425.40L419.00 425.46L419.60 425.13L420.20 425.57L420.80 425.39L421.40 425.56L422.00 425.41L422.60 425.57L423.20 425.43L423.80 425.14L424.40 425.07L425.00 425.14L425.60 425.27L426.20 425.24L426.80 425.40L427.40 425.51L428.00 425.35L428.60 425.18L429.20 425.58L429.80 425.61L430.40 425.16L431.00 425.44L431.60 425.20L432.20 425.18L432.80 425.06L433.40 425.38L434.00 425.41L434.60 425.14L435.20 425.17L435.80 425.24L436.40 425.14L437.00 425.24L437.60 425.06L438.20 425.43L438.80 425.19L439.40 425.06L440.00 425.43L440.60 425.27L441.20 425.42L441.80 425.36L442.40 425.59L443.00 425.63L443.60 425.18L444.20 425.37L444.80 425.27L445.40 425.20L446.00 425.39L446.60 425.42L447.20 425.54L447.80 425.17L448.40 425.15L449.00 425.21L449.60 425.12L450.20 425.26L450.80 425.23L451.40 425.54L452.00 425.19L452.60 425.45L453.20 425.39L453.80 425.46L454.40 425.31L455.00 425.26L455.60 425.31L456.20 425.47L456.80 425.53L457.40 425.15L458.00 425.48L458.60 425.40L459.20 425.61L459.80 425.48L460.40 425.61L461.00 425.46L461.60 425.24L462.20 425.08L462.80 425.29L463.40 425.51L464.00 425.28L464.60 425.29L465.20 425.18L465.80 425.35L466.40 425.13L467.00 425.43L467.60 425.50L468.20 425.36L468.80 425.12L469.40 425.24L470.00 425.38L470.60 425.38L471.20 425.29L471.80 425.41L472.40 425.35L473.00 425.10L473.60 425.12L474.20 425.18L474.80 425.61L475.40 425.35L476.00 425.47L476.60 425.14L477.20 425.50L477.80 425.13L478.40 425.55L479.00 425.44L479.60 425.12L480.20 425.34L480.80 425.14L481.40 425.37L482.00 425.56L482.60 425.27L483.20 425.39L483.80 425.40L484.40 426.16L485.00 426.80L485.60 426.55L486.20 426.56L486.80 426.57L487.40 426.95L488.00 427.16L488.60 426.87L489.20 426.78L489.80 426.85L490.40 427.23L491.00 427.14L491.60 426.87L492.20 427.50L492.80 427.31L493.40 427.41L494.00 427.86L494.60 427.97L495.20 427.42L495.80 427.55L496.40 427.74L497.00 427.73L497.60 427.47L498.20 427.81L498.80 428.00L499.40 427.66L500.00 427.85L500.60 427.63L501.20 427.47L501.80 427.83L502.40 427.90L503.00 428.02L503.60 427.56L504.20 428.01L504.80 427.49L505.40 427.64L506.00 427.52L506.60 427.58L507.20 427.96L507.80 427.97L508.40 427.50L509.00 427.91L509.60 427.61L510.20 427.99L510.80 427.91L511.40 427.69L512.00 427.95L512.00 428.80Z" fill="#0a0a0a" stroke="#0a0a0a" stroke-width="0.6"/>
<path d="M424.6 391.0V381.6H510.3V391.0" stroke="#0a0a0a" stroke-width="1.25" fill="none"/>
<text transform="translate(469.0,377.8) scale(1.085,1)" font-family="Liberation Serif, serif" stroke="#0a0a0a" stroke-width="0.14" font-size="12.8" fill="#0a0a0a" text-anchor="middle">3%</text>
<text transform="translate(509.2,354.7) scale(1.085,1)" font-family="Liberation Serif, serif" stroke="#0a0a0a" stroke-width="0.14" font-size="12.8" fill="#0a0a0a" text-anchor="end">R2</text>
<text transform="translate(99.7,462.3) scale(1.085,1)" font-family="Liberation Serif, serif" stroke="#0a0a0a" stroke-width="0.14" font-size="12.8" fill="#0a0a0a" text-anchor="middle">Green fluorescence</text>
<text transform="translate(273.4,461.2) scale(1.085,1)" font-family="Liberation Serif, serif" stroke="#0a0a0a" stroke-width="0.14" font-size="12.8" fill="#0a0a0a" text-anchor="middle">Propidium iodide</text>
<text transform="translate(453.2,461.2) scale(1.085,1)" font-family="Liberation Serif, serif" stroke="#0a0a0a" stroke-width="0.14" font-size="12.8" fill="#0a0a0a" text-anchor="middle">Propidium iodide</text>
<text transform="translate(192,382.0) rotate(-90)" font-family="Liberation Serif, serif" stroke="#0a0a0a" stroke-width="0.14" font-size="13.6" fill="#0a0a0a" text-anchor="middle">Number of cells</text>
<text transform="translate(368.5,382.0) rotate(-90)" font-family="Liberation Serif, serif" stroke="#0a0a0a" stroke-width="0.14" font-size="13.6" fill="#0a0a0a" text-anchor="middle">Number of cells</text>
</svg>
</body></html>
